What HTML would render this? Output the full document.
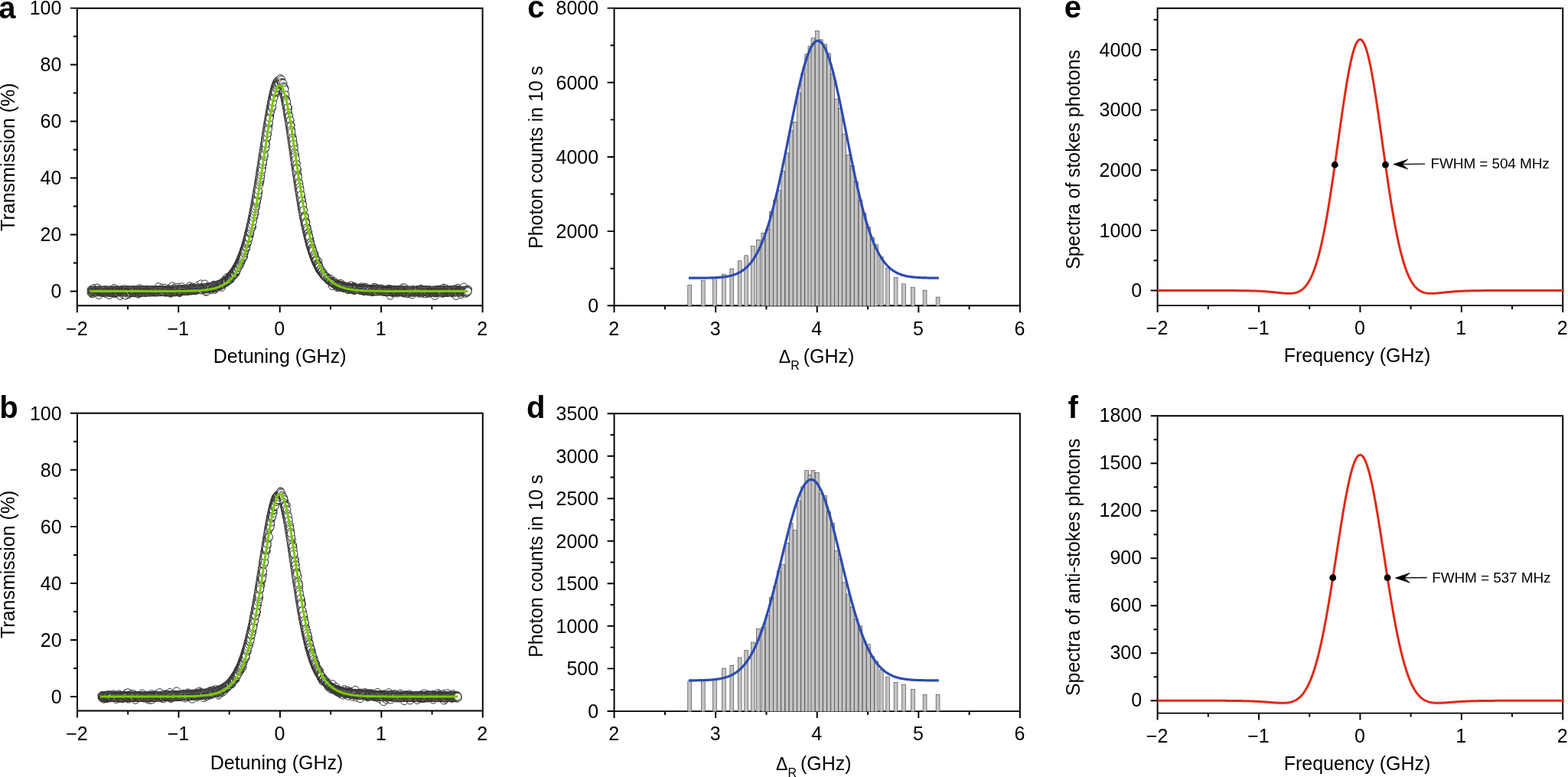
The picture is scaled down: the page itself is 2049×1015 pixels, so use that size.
<!DOCTYPE html>
<html lang="en"><head><meta charset="utf-8"><title>Figure</title>
<style>
html,body{margin:0;padding:0;background:#fff;overflow:hidden}
svg{display:block;font-family:"Liberation Sans",Arial,Helvetica,sans-serif}
.ax{fill:none;stroke:#000;stroke-width:1.95}
.tk{fill:none;stroke:#000;stroke-width:1.95}
.t{font-size:25px;fill:#000}
.s{font-size:19px;fill:#000}
.L{font-size:40px;font-weight:bold;fill:#000}
.c{fill:none;stroke:none;marker-start:url(#mk);marker-mid:url(#mk);marker-end:url(#mk)}
.g{fill:none;stroke:#7ac900;stroke-width:3;stroke-linejoin:miter;stroke-linecap:butt}
.b rect{fill:#c3c3c3;stroke:#1c1c1c;stroke-width:.5}
.bl{fill:none;stroke:#2b4bb0;stroke-width:3.2;stroke-linejoin:round}
.r{fill:none;stroke:#df2a17;stroke-width:3;stroke-linejoin:round}
.d{fill:#000}
.ar{fill:none;stroke:#000;stroke-width:1.3}
.ah{fill:#000;stroke:#000;stroke-width:.7;stroke-linejoin:miter}
</style></head><body>
<svg width="2049" height="1015" viewBox="0 0 2049 1015">
<defs><marker id="mk" markerUnits="userSpaceOnUse" markerWidth="12" markerHeight="12" refX="6" refY="6" viewBox="0 0 12 12" overflow="visible"><circle cx="6" cy="6" r="4.8" fill="#fff" stroke="#2c2c2c" stroke-width="1"/></marker></defs>
<rect width="2049" height="1015" fill="#fff"/>
<path class="c" d="M119.0 378.3 120.1 383.7 121.4 383.7 122.7 379.5 123.0 376.2 124.4 379.7 125.8 378.0 126.8 380.5 127.3 375.9 128.1 382.2 129.1 385.7 130.5 381.9 131.4 381.0 132.4 380.2 133.7 382.2 134.5 380.5 135.5 382.3 136.3 380.0 138.2 383.6 138.5 381.6 140.4 379.8 140.7 381.4 142.2 381.8 142.9 385.7 144.3 381.4 145.1 382.2 146.5 379.0 147.2 382.7 147.6 380.3 149.0 376.4 149.8 383.9 151.4 381.6 152.1 383.0 153.5 379.5 154.3 382.6 154.8 378.8 155.8 382.4 157.4 386.8 158.3 379.2 159.9 378.1 160.7 384.9 161.2 381.6 162.5 377.6 163.5 381.4 164.3 386.0 165.0 382.2 166.9 378.4 167.9 384.8 169.0 383.4 169.6 380.8 170.2 378.5 171.4 382.7 172.8 382.6 173.6 380.3 174.9 382.7 175.8 382.7 176.4 380.3 178.0 379.1 179.3 379.2 180.3 384.4 180.7 378.6 181.6 383.3 182.5 376.6 183.8 380.1 184.7 382.0 185.7 381.9 186.8 381.8 187.9 380.7 189.4 382.4 190.2 379.9 190.7 382.2 191.9 378.9 192.9 378.2 194.0 382.0 195.5 380.2 195.9 380.8 197.0 380.6 198.7 381.7 199.7 381.9 201.0 380.8 201.8 381.9 202.7 380.5 203.5 382.1 204.7 381.2 205.2 382.1 207.1 374.5 207.5 379.0 209.2 381.7 210.0 381.7 210.2 379.3 212.2 376.0 213.3 379.1 213.9 377.9 215.4 376.0 216.1 382.3 216.8 380.1 217.6 381.1 218.7 382.1 219.6 380.9 221.0 381.5 221.9 376.4 222.6 383.4 223.8 382.9 225.4 373.7 226.0 378.9 227.6 376.2 228.7 382.2 229.5 375.6 230.3 377.8 231.6 379.6 231.9 376.9 233.1 374.9 234.7 382.8 235.3 381.8 236.3 380.3 237.6 374.6 239.0 378.1 239.6 379.8 240.1 378.1 242.0 378.6 242.9 377.8 243.8 380.6 245.0 380.8 245.4 376.5 246.3 379.0 247.8 373.6 249.2 380.1 250.1 377.8 251.2 374.8 251.4 377.9 252.5 377.6 253.6 378.5 255.5 378.9 255.6 377.3 256.7 377.8 258.5 378.7 258.9 372.7 259.9 378.5 260.8 378.5 262.3 377.2 262.7 370.7 264.0 376.7 265.3 378.9 265.8 376.3 267.7 370.8 267.9 377.9 269.0 381.4 270.4 380.8 271.6 377.2 272.4 377.6 273.2 376.0 274.2 374.9 276.0 378.7 276.7 374.3 278.0 376.6 278.4 373.8 279.4 372.0 280.4 378.6 281.5 377.2 282.8 374.7 283.4 372.0 284.3 373.2 285.8 372.1 286.9 372.1 287.6 371.5 289.2 374.1 289.5 375.5 290.4 370.9 292.4 368.0 293.5 365.6 294.3 369.2 295.0 367.2 296.5 368.5 296.7 362.3 298.5 363.5 299.5 364.3 300.5 360.0 301.4 365.3 302.4 360.7 302.9 359.0 304.5 360.3 304.8 360.5 306.8 355.2 307.4 358.3 308.7 355.7 309.2 351.9 310.2 347.6 311.4 348.3 312.5 344.4 313.1 344.5 314.1 343.5 315.4 335.7 316.5 339.1 317.1 337.4 318.7 335.6 319.6 329.4 320.9 325.7 321.7 324.7 322.7 319.1 323.8 313.0 325.2 308.7 326.0 308.6 326.4 303.2 328.3 296.7 328.5 296.3 329.7 297.0 331.2 283.2 332.2 281.7 333.3 278.6 334.5 270.8 335.6 263.2 335.8 260.9 336.8 258.7 337.7 251.4 339.4 239.7 340.2 236.5 340.9 229.8 342.8 218.4 343.6 213.7 344.7 206.3 345.8 194.2 346.7 187.6 347.6 187.2 348.9 180.9 349.9 175.0 350.4 164.2 351.1 164.1 353.0 151.1 354.0 143.2 354.5 141.0 355.2 140.8 356.9 129.0 357.1 129.0 358.2 122.1 359.9 123.3 360.4 120.0 361.5 114.9 362.9 109.3 363.6 109.7 365.2 110.9 366.4 109.3 367.3 107.5 368.2 111.0 368.7 110.6 369.6 110.9 371.3 119.0 372.1 115.3 373.6 128.8 373.7 132.5 374.9 134.4 376.2 143.5 376.7 140.7 378.1 155.2 379.1 157.8 380.6 169.4 381.4 177.1 382.2 178.7 383.1 184.9 384.5 190.4 385.4 205.0 386.9 217.4 387.4 213.4 388.7 221.9 389.2 227.4 390.7 240.0 391.0 240.3 392.5 251.7 394.0 257.4 394.7 263.7 395.9 275.9 396.7 274.5 397.9 284.8 398.9 289.3 399.9 289.3 401.3 296.8 402.1 306.6 403.2 308.3 403.6 309.7 405.1 312.0 405.6 318.2 407.3 325.1 407.5 322.6 409.0 328.0 409.9 333.2 411.2 331.5 412.6 337.6 413.3 343.0 414.3 340.0 414.9 342.2 416.0 341.0 416.8 346.2 418.1 352.8 419.3 352.4 420.5 355.7 421.6 355.2 422.5 359.0 423.1 359.5 424.7 360.8 425.9 362.3 427.0 361.3 427.7 363.2 429.0 365.2 429.7 366.4 430.9 364.1 431.9 366.0 432.3 364.4 434.2 373.6 434.9 367.5 435.8 370.0 436.4 367.3 437.4 371.1 439.1 373.6 439.6 372.4 440.7 375.8 441.5 374.7 442.5 371.3 443.6 370.3 445.4 372.8 445.7 370.4 447.4 373.6 448.6 376.3 449.4 376.3 449.7 375.3 451.0 376.2 452.2 376.5 452.9 374.7 454.6 378.9 454.9 375.3 456.5 377.7 457.7 373.7 458.9 372.6 459.7 375.5 460.2 379.0 461.9 374.9 462.3 374.1 463.1 379.7 464.9 375.9 465.7 377.2 466.1 378.2 467.5 376.6 469.0 377.1 469.2 377.9 471.0 376.0 471.3 377.3 472.3 374.6 474.0 377.4 475.0 376.1 475.7 380.9 477.0 375.0 477.6 378.9 478.4 375.5 479.7 379.6 481.0 381.1 481.5 379.5 482.8 379.9 484.4 377.9 485.0 380.6 486.3 381.9 487.3 378.9 488.6 380.7 488.8 375.0 490.6 381.3 490.7 375.5 492.2 376.9 493.1 378.6 494.3 379.3 495.3 377.7 496.6 377.7 497.8 376.7 498.0 379.0 499.7 379.0 500.3 379.3 501.7 380.1 502.8 378.6 503.9 378.5 504.5 381.3 505.3 381.7 506.4 380.6 507.9 377.0 508.3 380.7 509.9 386.4 511.0 377.8 512.1 380.9 513.2 382.8 514.2 380.4 514.7 378.8 515.9 378.4 517.0 378.9 517.4 378.8 518.7 383.2 519.8 381.4 521.3 378.6 522.0 381.5 523.5 380.5 523.9 380.7 525.6 379.5 526.1 375.8 527.7 383.1 528.5 375.7 529.5 382.7 529.9 383.3 531.8 380.8 532.6 381.5 533.2 384.0 534.8 381.9 535.3 382.2 536.9 381.8 537.1 380.7 538.7 385.1 539.2 382.4 540.4 380.5 541.1 381.2 542.6 380.6 543.3 379.4 544.8 381.4 545.2 380.6 547.0 381.4 548.1 381.6 548.2 383.5 550.0 377.2 550.6 378.1 552.2 382.4 553.3 383.6 553.9 378.9 555.4 379.4 556.3 384.0 557.5 380.6 558.2 379.0 559.3 383.1 559.9 380.7 561.5 379.6 561.6 383.4 563.5 381.9 563.9 380.1 565.4 379.3 566.0 380.5 567.6 380.6 568.3 386.6 569.4 383.2 570.3 381.4 571.7 378.2 572.5 381.2 573.2 381.4 574.5 377.9 575.5 379.1 576.6 380.7 578.0 380.8 578.4 383.5 579.4 376.0 580.8 382.4 582.0 376.5 582.5 382.5 583.6 379.9 585.0 382.6 585.7 381.8 586.3 378.3 587.6 380.9 588.4 380.3 589.6 378.6 590.6 382.9 592.4 380.6 593.2 377.7 594.1 384.1 594.9 378.9 596.2 386.6 597.2 380.2 597.6 376.4 598.8 376.2 599.6 380.6 601.6 377.9 602.0 381.2 602.7 384.8 604.3 377.6 605.3 380.6 606.1 374.8 606.9 382.5 608.4 383.5 608.9 378.8 610.1 381.0 611.7 377.9"/>
<path class="c" d="M119.3 379.0 119.7 379.7 120.0 379.3 120.3 379.4 120.7 379.6 121.0 379.0 121.3 379.4 121.6 378.9 122.0 379.2 122.3 379.4 122.6 379.2 123.0 379.4 123.3 379.8 123.6 378.9 123.9 379.2 124.3 378.9 124.6 379.8 124.9 379.0 125.3 379.0 125.6 379.3 125.9 379.9 126.2 379.2 126.6 379.5 126.9 379.3 127.2 379.3 127.5 379.5 127.9 379.3 128.2 379.3 128.5 378.8 128.9 379.3 129.2 378.6 129.5 379.6 129.8 379.3 130.2 378.9 130.5 379.7 130.8 379.1 131.2 379.2 131.5 379.5 131.8 379.4 132.1 378.8 132.5 379.4 132.8 379.2 133.1 379.2 133.5 378.9 133.8 379.9 134.1 379.7 134.4 379.7 134.8 379.4 135.1 379.1 135.4 379.0 135.8 379.4 136.1 378.8 136.4 379.3 136.7 379.1 137.1 379.5 137.4 379.0 137.7 379.5 138.1 378.9 138.4 379.0 138.7 378.7 139.0 379.4 139.4 379.6 139.7 379.0 140.0 379.2 140.4 379.4 140.7 379.7 141.0 379.0 141.3 379.9 141.7 379.4 142.0 379.0 142.3 379.4 142.6 379.1 143.0 379.1 143.3 379.1 143.6 379.0 144.0 379.1 144.3 379.4 144.6 379.6 144.9 379.4 145.3 379.5 145.6 379.2 145.9 378.9 146.3 379.0 146.6 379.5 146.9 379.2 147.2 379.3 147.6 379.4 147.9 378.9 148.2 379.1 148.6 379.2 148.9 379.6 149.2 380.1 149.5 379.5 149.9 378.9 150.2 379.3 150.5 379.3 150.9 379.4 151.2 379.1 151.5 379.3 151.8 378.8 152.2 379.3 152.5 379.4 152.8 378.9 153.2 379.1 153.5 379.1 153.8 379.1 154.1 379.3 154.5 379.2 154.8 379.1 155.1 379.2 155.5 379.8 155.8 378.9 156.1 379.4 156.4 379.4 156.8 379.4 157.1 379.5 157.4 379.5 157.7 379.3 158.1 379.0 158.4 379.4 158.7 379.1 159.1 379.7 159.4 379.1 159.7 379.6 160.0 379.1 160.4 379.5 160.7 379.5 161.0 379.6 161.4 379.7 161.7 379.3 162.0 379.6 162.3 379.3 162.7 378.9 163.0 379.5 163.3 379.4 163.7 379.3 164.0 379.5 164.3 379.3 164.6 379.2 165.0 379.0 165.3 379.5 165.6 379.3 166.0 379.3 166.3 378.9 166.6 379.6 166.9 379.2 167.3 379.0 167.6 379.1 167.9 379.5 168.3 379.6 168.6 379.8 168.9 379.4 169.2 379.3 169.6 379.7 169.9 379.0 170.2 379.2 170.5 379.3 170.9 379.4 171.2 379.1 171.5 379.4 171.9 379.1 172.2 379.4 172.5 379.0 172.8 379.7 173.2 379.6 173.5 378.7 173.8 379.0 174.2 378.8 174.5 379.5 174.8 379.0 175.1 379.0 175.5 379.0 175.8 379.3 176.1 378.8 176.5 379.1 176.8 379.6 177.1 378.5 177.4 379.2 177.8 378.9 178.1 379.5 178.4 379.5 178.8 379.0 179.1 379.0 179.4 379.5 179.7 379.2 180.1 379.6 180.4 379.9 180.7 378.9 181.1 379.6 181.4 379.0 181.7 378.9 182.0 379.1 182.4 378.8 182.7 379.1 183.0 379.2 183.3 379.2 183.7 379.1 184.0 379.1 184.3 379.5 184.7 379.3 185.0 379.4 185.3 378.4 185.6 378.9 186.0 379.5 186.3 379.1 186.6 379.8 187.0 379.2 187.3 378.7 187.6 379.2 187.9 378.8 188.3 379.3 188.6 379.1 188.9 379.1 189.3 379.9 189.6 379.5 189.9 378.7 190.2 379.5 190.6 378.9 190.9 378.7 191.2 379.2 191.6 378.9 191.9 379.1 192.2 379.4 192.5 379.0 192.9 379.1 193.2 379.5 193.5 379.3 193.8 379.6 194.2 379.3 194.5 379.2 194.8 379.5 195.2 379.7 195.5 379.0 195.8 378.8 196.1 379.4 196.5 379.1 196.8 379.4 197.1 379.9 197.5 378.5 197.8 379.1 198.1 379.6 198.4 378.8 198.8 378.9 199.1 378.7 199.4 378.9 199.8 379.0 200.1 378.7 200.4 379.2 200.7 379.1 201.1 379.4 201.4 379.5 201.7 379.0 202.0 379.0 202.4 379.6 202.7 379.0 203.0 378.8 203.4 379.5 203.7 379.2 204.0 378.6 204.3 379.3 204.7 378.9 205.0 378.8 205.3 379.0 205.7 379.0 206.0 378.9 206.3 379.0 206.6 379.0 207.0 379.5 207.3 379.0 207.6 379.3 207.9 378.6 208.3 378.4 208.6 378.7 208.9 379.6 209.3 378.7 209.6 378.9 209.9 379.3 210.2 379.3 210.6 378.6 210.9 379.1 211.2 379.0 211.6 378.9 211.9 378.7 212.2 379.7 212.5 378.6 212.9 379.1 213.2 379.0 213.5 378.7 213.8 378.8 214.2 379.6 214.5 378.7 214.8 378.9 215.2 379.2 215.5 379.0 215.8 379.3 216.1 378.6 216.5 378.4 216.8 379.0 217.1 378.9 217.4 379.2 217.8 379.0 218.1 379.1 218.4 378.7 218.8 378.2 219.1 378.4 219.4 378.4 219.7 379.0 220.1 378.4 220.4 378.9 220.7 378.9 221.0 378.4 221.4 378.7 221.7 377.9 222.0 378.6 222.4 378.7 222.7 378.4 223.0 378.9 223.3 378.4 223.7 378.1 224.0 378.6 224.3 378.7 224.6 378.2 225.0 378.8 225.3 378.4 225.6 378.6 226.0 378.4 226.3 378.7 226.6 378.3 226.9 378.3 227.3 377.9 227.6 378.5 227.9 378.3 228.2 378.9 228.6 378.6 228.9 378.3 229.2 378.7 229.6 378.3 229.9 378.6 230.2 378.1 230.5 378.1 230.9 378.4 231.2 378.0 231.5 378.4 231.8 378.2 232.2 378.0 232.5 378.0 232.8 378.0 233.1 377.6 233.5 378.3 233.8 378.2 234.1 378.6 234.5 377.8 234.8 378.4 235.1 378.2 235.4 378.2 235.8 377.9 236.1 378.1 236.4 378.1 236.7 377.9 237.1 378.0 237.4 377.9 237.7 378.2 238.0 378.0 238.4 378.2 238.7 377.6 239.0 377.6 239.4 377.6 239.7 377.7 240.0 377.9 240.3 377.6 240.7 378.2 241.0 378.5 241.3 378.0 241.6 377.2 242.0 377.6 242.3 377.2 242.6 377.8 242.9 377.3 243.3 377.1 243.6 377.3 243.9 377.5 244.3 377.2 244.6 377.6 244.9 377.0 245.2 377.8 245.6 377.7 245.9 377.4 246.2 377.6 246.5 376.9 246.9 377.2 247.2 377.5 247.5 376.8 247.8 376.9 248.2 377.4 248.5 376.8 248.8 376.9 249.2 377.4 249.5 377.3 249.8 377.1 250.1 376.8 250.5 376.6 250.8 376.6 251.1 377.2 251.4 377.6 251.8 377.5 252.1 376.6 252.4 376.7 252.7 376.6 253.1 376.9 253.4 376.9 253.7 376.7 254.0 376.7 254.4 376.8 254.7 377.1 255.0 377.2 255.3 376.7 255.7 376.8 256.0 376.3 256.3 377.0 256.7 377.3 257.0 377.2 257.3 376.6 257.6 376.1 258.0 376.7 258.3 376.7 258.6 376.4 258.9 376.0 259.3 376.1 259.6 376.2 259.9 376.1 260.2 376.5 260.6 376.3 260.9 376.2 261.2 375.8 261.5 376.9 261.9 376.4 262.2 376.1 262.5 376.2 262.8 376.2 263.2 376.2 263.5 376.4 263.8 375.9 264.1 375.6 264.5 376.1 264.8 375.8 265.1 375.6 265.4 376.1 265.8 375.9 266.1 376.2 266.4 375.3 266.7 375.2 267.1 375.8 267.4 375.1 267.7 375.4 268.0 376.1 268.4 375.4 268.7 375.4 269.0 375.3 269.3 375.2 269.7 375.5 270.0 375.0 270.3 375.2 270.6 374.7 271.0 375.3 271.3 375.9 271.6 374.6 271.9 374.9 272.3 375.6 272.6 375.2 272.9 375.2 273.2 374.6 273.6 375.0 273.9 374.4 274.2 374.9 274.5 374.4 274.9 374.8 275.2 374.9 275.5 374.3 275.8 374.5 276.1 374.2 276.5 374.8 276.8 374.5 277.1 374.3 277.4 373.5 277.8 373.9 278.1 374.5 278.4 374.8 278.7 373.3 279.1 373.7 279.4 374.0 279.7 373.3 280.0 373.3 280.3 372.8 280.7 373.3 281.0 373.4 281.3 372.9 281.6 373.5 281.9 373.1 282.3 373.2 282.6 373.0 282.9 373.1 283.2 373.0 283.5 372.8 283.9 372.3 284.2 372.3 284.5 372.2 284.8 371.9 285.1 371.7 285.5 371.7 285.8 371.1 286.1 371.5 286.4 371.4 286.7 371.5 287.0 370.9 287.4 370.7 287.7 371.8 288.0 370.6 288.3 371.0 288.6 370.4 288.9 370.3 289.2 370.6 289.6 370.5 289.9 370.0 290.2 369.0 290.5 369.9 290.8 369.5 291.1 369.3 291.4 369.1 291.8 368.5 292.1 368.1 292.4 368.5 292.7 368.2 293.0 368.2 293.3 367.4 293.6 367.7 293.9 367.3 294.2 367.3 294.6 366.7 294.9 366.8 295.2 366.8 295.5 365.8 295.8 366.7 296.1 365.8 296.4 365.7 296.7 365.6 297.0 364.4 297.3 364.7 297.6 364.6 297.9 364.5 298.2 363.8 298.5 363.6 298.8 363.4 299.1 363.2 299.4 362.3 299.7 362.3 300.0 362.1 300.3 362.1 300.6 361.6 300.9 360.8 301.2 360.9 301.5 360.1 301.8 360.0 302.1 359.5 302.4 359.1 302.7 358.9 303.0 358.5 303.3 358.0 303.6 357.4 303.9 356.4 304.3 356.4 304.6 356.6 304.9 355.1 305.2 355.4 305.6 355.1 305.9 354.3 306.2 353.9 306.6 353.3 306.9 352.9 307.2 352.3 307.5 351.4 307.9 350.8 308.2 350.7 308.5 349.7 308.9 349.3 309.2 348.6 309.5 348.3 309.8 347.7 310.2 346.9 310.5 346.8 310.8 345.8 311.2 345.5 311.5 344.3 311.8 343.8 312.1 343.0 312.5 342.5 312.8 342.0 313.1 340.7 313.5 340.4 313.8 339.5 314.1 338.7 314.4 337.8 314.8 337.1 315.1 336.6 315.4 335.8 315.8 334.3 316.1 333.8 316.4 332.9 316.7 332.2 317.1 330.8 317.4 330.0 317.7 329.4 318.1 328.8 318.4 326.7 318.7 326.4 319.0 325.6 319.4 324.4 319.7 323.5 320.0 322.2 320.3 321.2 320.7 320.3 321.0 318.7 321.3 318.0 321.7 317.2 322.0 315.3 322.3 314.4 322.6 313.4 323.0 312.3 323.3 310.8 323.6 309.5 324.0 308.2 324.3 306.9 324.6 305.1 324.9 303.8 325.3 302.7 325.6 301.3 325.9 300.2 326.3 299.1 326.6 297.1 326.9 295.4 327.2 294.5 327.6 293.0 327.9 291.5 328.2 290.2 328.6 288.1 328.9 287.0 329.2 284.7 329.5 283.0 329.9 281.9 330.2 280.3 330.5 278.9 330.9 276.7 331.2 275.2 331.5 274.0 331.8 272.1 332.2 269.9 332.5 268.4 332.8 266.4 333.2 264.6 333.5 262.5 333.8 261.1 334.1 258.9 334.5 257.0 334.8 255.0 335.1 253.6 335.4 251.5 335.8 248.9 336.1 247.7 336.4 245.9 336.8 243.7 337.1 242.1 337.4 240.0 337.7 237.8 338.1 235.7 338.4 233.3 338.7 231.9 339.1 229.5 339.4 227.3 339.7 225.4 340.0 223.0 340.4 220.4 340.7 219.3 341.0 217.1 341.4 214.8 341.7 212.7 342.0 210.6 342.3 208.1 342.7 205.6 343.0 203.2 343.3 201.8 343.7 200.2 344.0 197.0 344.3 195.3 344.6 193.3 345.0 190.7 345.3 188.9 345.6 186.8 346.0 184.8 346.3 182.2 346.6 180.1 346.9 178.4 347.3 176.3 347.6 173.6 347.9 172.1 348.3 170.0 348.6 168.0 348.9 165.8 349.2 163.5 349.6 161.7 349.9 159.4 350.2 157.6 350.5 156.4 350.9 153.9 351.2 152.0 351.5 150.6 351.9 148.0 352.2 146.4 352.5 144.7 352.8 142.6 353.2 140.7 353.5 139.1 353.8 137.7 354.2 135.9 354.5 133.5 354.8 132.9 355.1 130.9 355.5 129.4 355.8 127.4 356.1 126.1 356.5 124.7 356.8 123.4 357.1 121.6 357.4 120.5 357.8 119.2 358.1 117.9 358.4 116.4 358.8 115.4 359.1 114.2 359.4 112.9 359.7 112.3 360.1 111.2 360.4 110.2 360.7 109.1 361.1 108.4 361.4 108.0 361.7 107.5 362.0 106.8 362.4 106.4 362.7 105.6 363.0 105.4 363.4 105.4 363.7 105.6 364.0 105.7 364.3 105.4 364.7 105.4 365.0 105.7 365.3 106.3 365.6 106.5 366.0 107.8 366.3 107.5 366.6 108.1 367.0 109.3 367.3 110.2 367.6 111.2 367.9 111.9 368.3 113.5 368.6 114.5 368.9 115.4 369.3 117.2 369.6 117.9 369.9 119.3 370.2 120.8 370.6 122.4 370.9 123.2 371.2 125.4 371.6 126.7 371.9 128.1 372.2 130.0 372.5 131.3 372.9 133.3 373.2 134.9 373.5 136.7 373.9 138.3 374.2 140.5 374.5 141.9 374.8 143.7 375.2 146.2 375.5 148.3 375.8 150.2 376.2 152.0 376.5 153.5 376.8 155.7 377.1 157.3 377.5 159.4 377.8 162.4 378.1 164.2 378.5 166.3 378.8 167.9 379.1 170.3 379.4 172.5 379.8 175.2 380.1 176.6 380.4 179.7 380.7 181.6 381.1 184.2 381.4 186.4 381.7 188.4 382.1 191.0 382.4 192.8 382.7 195.1 383.0 197.6 383.4 199.7 383.7 201.9 384.0 204.2 384.4 207.1 384.7 208.9 385.0 211.1 385.3 213.8 385.7 216.1 386.0 217.9 386.3 220.3 386.7 222.7 387.0 224.6 387.3 227.0 387.6 229.0 388.0 231.8 388.3 233.6 388.6 236.7 389.0 238.5 389.3 239.9 389.6 242.9 389.9 244.8 390.3 246.9 390.6 248.8 390.9 250.7 391.3 252.6 391.6 255.2 391.9 257.1 392.2 258.9 392.6 260.8 392.9 263.2 393.2 264.7 393.5 267.4 393.9 268.8 394.2 271.2 394.5 272.8 394.9 274.7 395.2 275.8 395.5 277.6 395.8 279.7 396.2 281.6 396.5 284.0 396.8 285.6 397.2 286.7 397.5 288.2 397.8 289.9 398.1 291.9 398.5 293.5 398.8 294.7 399.1 295.8 399.5 297.7 399.8 299.5 400.1 301.0 400.4 302.3 400.8 303.7 401.1 305.7 401.4 306.2 401.8 307.9 402.1 309.2 402.4 310.8 402.7 311.7 403.1 313.0 403.4 314.8 403.7 315.5 404.1 317.2 404.4 318.8 404.7 319.2 405.0 320.9 405.4 321.9 405.7 323.1 406.0 324.0 406.4 325.1 406.7 326.0 407.0 327.0 407.3 327.7 407.7 329.0 408.0 330.0 408.3 331.0 408.6 331.8 409.0 332.8 409.3 333.9 409.6 335.2 410.0 336.0 410.3 336.5 410.6 337.5 410.9 338.4 411.3 339.2 411.6 340.1 411.9 340.4 412.3 341.2 412.6 342.6 412.9 342.9 413.2 343.7 413.6 344.5 413.9 344.8 414.2 345.7 414.6 346.4 414.9 347.4 415.2 347.5 415.5 348.3 415.9 348.9 416.2 349.8 416.5 349.8 416.9 351.7 417.2 351.8 417.5 352.4 417.8 352.9 418.2 353.3 418.5 353.7 418.8 354.2 419.2 354.5 419.5 354.7 419.8 355.4 420.1 356.0 420.5 356.5 420.8 356.8 421.1 357.1 421.5 358.0 421.8 357.7 422.2 358.7 422.5 358.8 422.9 360.2 423.3 359.8 423.6 360.3 424.0 360.2 424.4 360.7 424.7 361.2 425.1 361.5 425.4 362.1 425.8 362.6 426.1 362.3 426.5 363.4 426.9 363.5 427.2 364.0 427.6 364.2 427.9 364.3 428.3 364.3 428.6 365.1 429.0 364.8 429.3 365.9 429.7 365.8 430.0 366.1 430.4 365.9 430.7 366.0 431.1 367.3 431.4 366.8 431.8 366.6 432.1 367.3 432.5 367.0 432.8 367.4 433.2 367.8 433.5 368.5 433.8 368.5 434.2 368.1 434.5 369.0 434.9 369.2 435.2 369.2 435.6 368.9 435.9 369.4 436.3 370.1 436.6 370.0 436.9 369.8 437.3 369.8 437.6 369.8 438.0 370.3 438.3 370.4 438.6 371.0 439.0 371.0 439.3 371.4 439.7 371.2 440.0 371.2 440.3 371.4 440.7 371.8 441.0 371.5 441.4 371.5 441.7 371.5 442.0 372.7 442.4 372.8 442.7 372.6 443.1 372.2 443.4 372.1 443.7 372.3 444.1 372.6 444.4 372.7 444.7 372.9 445.1 373.2 445.4 373.3 445.8 372.2 446.1 373.3 446.4 373.1 446.8 373.2 447.1 373.2 447.4 373.6 447.8 373.4 448.1 373.1 448.4 374.0 448.8 374.0 449.1 374.2 449.4 374.1 449.8 374.4 450.1 374.0 450.4 374.0 450.8 373.9 451.1 374.0 451.4 374.5 451.8 374.4 452.1 374.8 452.4 374.6 452.8 374.6 453.1 374.6 453.4 374.8 453.8 375.1 454.1 374.6 454.4 375.0 454.8 375.4 455.1 375.5 455.4 374.9 455.8 375.6 456.1 375.0 456.4 374.8 456.8 375.1 457.1 375.1 457.4 375.2 457.8 375.6 458.1 375.4 458.4 376.0 458.8 375.3 459.1 375.4 459.4 375.5 459.8 375.3 460.1 375.7 460.4 376.2 460.7 375.3 461.1 375.7 461.4 376.0 461.7 376.0 462.1 376.0 462.4 375.8 462.7 376.3 463.1 375.9 463.4 376.1 463.7 375.8 464.1 376.2 464.4 375.9 464.7 376.4 465.1 376.1 465.4 376.3 465.7 375.9 466.0 376.1 466.4 376.0 466.7 376.5 467.0 376.5 467.4 376.4 467.7 376.7 468.0 376.5 468.4 376.1 468.7 376.8 469.0 376.7 469.4 376.5 469.7 376.1 470.0 376.0 470.3 376.8 470.7 376.8 471.0 376.6 471.3 376.9 471.7 377.3 472.0 376.6 472.3 376.6 472.7 376.7 473.0 376.6 473.3 376.8 473.6 377.0 474.0 376.7 474.3 376.9 474.6 376.9 475.0 377.3 475.3 376.9 475.6 377.0 476.0 377.3 476.3 377.3 476.6 377.2 476.9 377.1 477.3 377.3 477.6 377.4 477.9 377.1 478.3 377.5 478.6 377.1 478.9 377.5 479.3 377.3 479.6 376.9 479.9 377.9 480.2 377.7 480.6 377.5 480.9 377.4 481.2 377.6 481.6 377.7 481.9 377.6 482.2 377.7 482.6 377.4 482.9 377.7 483.2 377.5 483.6 377.5 483.9 377.3 484.2 377.7 484.5 377.7 484.9 377.5 485.2 378.2 485.5 377.6 485.9 377.9 486.2 377.4 486.5 377.8 486.8 378.0 487.2 377.4 487.5 377.9 487.8 378.0 488.2 377.6 488.5 378.4 488.8 377.9 489.2 377.6 489.5 378.2 489.8 377.6 490.1 378.0 490.5 378.1 490.8 378.4 491.1 377.5 491.5 377.6 491.8 378.1 492.1 377.9 492.5 378.6 492.8 378.0 493.1 377.9 493.4 378.3 493.8 378.3 494.1 378.2 494.4 378.4 494.8 378.6 495.1 377.9 495.4 377.9 495.8 378.0 496.1 378.0 496.4 377.9 496.7 378.3 497.1 379.1 497.4 378.3 497.7 378.4 498.1 378.6 498.4 378.2 498.7 378.6 499.1 378.7 499.4 377.7 499.7 378.5 500.0 378.3 500.4 378.2 500.7 378.2 501.0 378.5 501.4 378.3 501.7 378.5 502.0 378.6 502.3 378.6 502.7 378.3 503.0 378.3 503.3 378.4 503.7 379.0 504.0 378.6 504.3 378.4 504.7 378.7 505.0 378.4 505.3 378.6 505.6 378.3 506.0 379.3 506.3 378.6 506.6 378.3 507.0 378.5 507.3 378.8 507.6 378.7 507.9 378.8 508.3 378.6 508.6 378.5 508.9 378.9 509.3 378.4 509.6 378.6 509.9 379.4 510.2 378.9 510.6 378.8 510.9 379.0 511.2 378.8 511.6 378.8 511.9 378.8 512.2 378.9 512.6 378.8 512.9 379.0 513.2 378.7 513.5 379.4 513.9 378.9 514.2 379.0 514.5 379.0 514.9 378.8 515.2 379.1 515.5 379.8 515.8 379.3 516.2 379.0 516.5 379.0 516.8 379.1 517.2 379.1 517.5 378.8 517.8 379.0 518.1 379.3 518.5 379.2 518.8 378.7 519.1 379.0 519.5 378.9 519.8 379.0 520.1 379.0 520.4 379.2 520.8 379.3 521.1 379.3 521.4 379.3 521.8 378.5 522.1 378.9 522.4 379.0 522.7 379.1 523.1 379.5 523.4 378.8 523.7 379.6 524.1 378.8 524.4 379.2 524.7 379.5 525.0 378.7 525.4 379.4 525.7 379.2 526.0 379.2 526.4 379.5 526.7 379.0 527.0 379.5 527.3 379.2 527.7 379.5 528.0 378.7 528.3 379.1 528.7 378.7 529.0 379.3 529.3 379.1 529.6 379.0 530.0 379.1 530.3 379.2 530.6 378.8 531.0 379.1 531.3 379.1 531.6 378.9 531.9 380.0 532.3 379.5 532.6 379.0 532.9 379.3 533.3 379.3 533.6 379.6 533.9 379.3 534.2 378.8 534.6 379.3 534.9 379.5 535.2 379.3 535.6 378.9 535.9 379.4 536.2 379.7 536.5 379.1 536.9 379.3 537.2 379.2 537.5 379.7 537.9 379.5 538.2 379.3 538.5 379.1 538.8 378.7 539.2 378.8 539.5 378.9 539.8 378.9 540.2 378.9 540.5 379.0 540.8 379.0 541.1 379.3 541.5 379.4 541.8 378.9 542.1 379.6 542.5 379.4 542.8 379.3 543.1 379.2 543.4 379.4 543.8 379.4 544.1 379.5 544.4 379.5 544.8 379.4 545.1 378.3 545.4 379.6 545.7 378.5 546.1 379.6 546.4 379.2 546.7 379.3 547.1 379.1 547.4 379.3 547.7 379.6 548.0 379.4 548.4 379.4 548.7 379.7 549.0 379.3 549.4 379.2 549.7 379.7 550.0 379.6 550.3 379.0 550.7 379.5 551.0 379.5 551.3 379.4 551.7 379.4 552.0 379.1 552.3 379.2 552.6 378.6 553.0 379.4 553.3 379.2 553.6 379.5 553.9 379.0 554.3 379.7 554.6 379.5 554.9 379.3 555.3 378.5 555.6 378.6 555.9 378.7 556.2 379.3 556.6 379.7 556.9 379.1 557.2 379.0 557.6 379.5 557.9 378.7 558.2 378.7 558.5 379.8 558.9 379.4 559.2 379.3 559.5 379.3 559.9 379.3 560.2 379.3 560.5 379.3 560.8 378.5 561.2 379.4 561.5 379.6 561.8 378.9 562.2 379.0 562.5 379.6 562.8 379.5 563.1 379.5 563.5 379.9 563.8 379.7 564.1 379.1 564.5 379.7 564.8 379.3 565.1 379.4 565.4 379.4 565.8 379.1 566.1 379.2 566.4 378.9 566.8 379.2 567.1 379.5 567.4 378.8 567.7 379.2 568.1 379.1 568.4 379.2 568.7 379.4 569.0 379.5 569.4 378.9 569.7 379.5 570.0 379.4 570.4 379.0 570.7 379.0 571.0 379.3 571.3 378.7 571.7 379.3 572.0 378.6 572.3 378.9 572.7 379.2 573.0 379.3 573.3 378.9 573.6 379.8 574.0 379.1 574.3 379.1 574.6 378.8 575.0 378.9 575.3 379.2 575.6 379.1 575.9 379.6 576.3 379.1 576.6 379.5 576.9 379.7 577.3 378.8 577.6 378.8 577.9 379.3 578.2 379.2 578.6 378.6 578.9 379.7 579.2 378.8 579.6 379.4 579.9 379.1 580.2 379.3 580.5 378.8 580.9 378.9 581.2 379.3 581.5 378.9 581.9 379.0 582.2 378.9 582.5 379.6 582.8 379.0 583.2 379.3 583.5 379.2 583.8 379.7 584.1 378.6 584.5 379.3 584.8 379.1 585.1 379.7 585.5 379.3 585.8 379.2 586.1 379.2 586.4 379.6 586.8 379.2 587.1 379.4 587.4 379.0 587.8 379.6 588.1 378.9 588.4 379.6 588.7 379.6 589.1 379.1 589.4 379.1 589.7 379.2 590.1 379.4 590.4 379.4 590.7 379.5 591.0 378.9 591.4 379.8 591.7 379.6 592.0 379.6 592.4 379.1 592.7 379.7 593.0 379.0 593.3 379.8 593.7 379.8 594.0 379.2 594.3 379.2 594.7 379.4 595.0 378.9 595.3 379.4 595.6 379.4 596.0 379.3 596.3 378.9 596.6 379.3 597.0 378.7 597.3 378.9 597.6 379.0 597.9 379.0 598.3 378.9 598.6 379.1 598.9 380.0 599.2 379.2 599.6 379.3 599.9 379.6 600.2 379.8 600.6 379.2 600.9 379.6 601.2 379.3 601.5 379.5 601.9 379.2 602.2 379.6 602.5 379.2 602.9 379.3 603.2 379.4 603.5 379.4 603.8 379.2 604.2 380.1 604.5 379.8 604.8 379.3 605.2 379.3 605.5 379.2 605.8 379.2 606.1 379.6 606.5 378.9 606.8 379.1 607.1 379.2 607.5 379.4 607.8 379.5 608.1 379.5 608.4 379.2 608.8 379.2 609.1 379.0 609.4 379.2 609.8 379.4 610.1 378.9 610.4 379.7 610.7 379.7 611.1 379.2 611.4 379.4"/>
<path class="c" d="M118.8 382.2 119.7 381.3 120.6 381.8 120.2 382.0 121.4 381.7 120.8 381.5 121.8 381.7 122.1 382.1 122.1 381.5 122.5 381.5 122.7 381.6 122.1 381.9 123.6 382.0 123.3 381.1 124.0 381.6 124.4 381.2 124.5 382.0 125.0 381.3 124.5 381.8 125.4 381.7 126.2 381.6 125.6 381.8 126.5 381.7 127.3 381.8 127.0 381.8 127.6 381.5 127.2 382.1 128.2 381.4 128.5 381.7 129.5 381.7 129.3 381.7 129.9 381.6 129.7 381.5 130.3 381.9 130.8 381.1 130.4 382.0 131.1 381.8 131.6 381.7 131.9 381.4 132.6 382.3 132.7 381.7 133.0 381.7 133.3 381.8 133.2 381.8 134.1 381.7 134.1 381.4 134.8 382.0 134.4 381.8 135.3 381.4 134.7 381.3 135.8 381.7 136.4 381.6 136.5 381.4 137.2 382.0 136.4 382.0 137.5 381.8 137.6 381.9 137.7 381.6 138.4 381.6 138.9 381.3 139.9 381.9 139.9 381.7 139.9 381.4 139.8 381.8 140.7 381.5 141.4 381.5 141.0 381.8 141.6 382.3 142.2 381.6 141.7 381.7 142.5 382.1 143.0 382.4 143.5 381.8 143.4 381.8 143.4 381.4 143.6 381.7 144.5 382.1 144.8 382.0 145.3 381.8 145.8 381.7 145.2 381.4 146.4 381.4 145.7 382.0 146.9 381.6 146.8 381.8 147.3 382.4 147.1 382.1 148.3 381.8 147.4 381.8 148.4 381.9 148.3 382.0 149.3 381.8 149.8 381.3 149.7 382.2 149.8 381.7 150.8 381.8 150.8 381.7 151.6 381.5 151.3 381.9 151.8 381.9 151.8 381.4 152.5 382.0 153.0 382.0 152.7 382.2 153.0 381.9 153.9 381.8 154.2 381.7 154.3 381.4 154.3 382.0 155.9 381.7 155.5 380.9 155.3 381.2 156.1 381.8 156.0 381.7 157.0 381.7 156.9 381.6 157.9 381.7 157.6 381.8 158.2 381.9 158.9 381.9 159.1 381.8 159.3 382.1 159.3 382.0 159.4 381.7 159.5 381.1 161.0 381.5 160.7 381.9 160.3 381.5 160.9 381.7 161.4 381.7 162.6 381.7 162.2 381.4 162.4 382.3 162.7 381.8 163.0 381.4 164.1 382.0 164.0 381.7 164.1 381.9 164.8 381.8 165.7 381.7 165.3 381.7 165.7 381.8 166.2 381.5 166.3 381.6 166.0 381.8 166.9 381.8 167.7 381.6 167.6 381.9 167.7 381.8 168.9 382.1 168.9 381.8 169.5 381.4 168.9 381.6 169.0 381.5 169.8 382.0 170.2 381.5 171.5 381.5 171.0 381.7 170.3 382.1 170.6 382.1 172.2 381.3 172.3 381.8 172.8 381.0 172.9 381.3 173.7 382.0 173.5 382.0 173.9 381.8 173.8 381.5 174.4 381.8 175.1 381.6 175.6 381.2 174.9 381.6 175.1 381.4 176.9 382.0 176.9 381.5 176.9 382.4 176.7 381.8 177.4 381.7 178.1 381.7 178.0 382.0 178.1 381.8 179.6 381.8 179.0 381.4 179.7 381.5 179.7 381.2 179.8 381.3 181.0 381.6 180.5 381.9 181.1 382.3 181.9 381.9 181.2 381.5 182.0 381.9 182.8 382.0 182.4 382.2 183.7 381.5 182.7 381.5 183.4 381.9 183.9 382.3 184.4 381.7 185.2 381.9 184.4 382.0 185.0 381.4 186.5 381.5 186.1 382.0 185.7 382.0 186.9 381.3 186.8 382.1 187.6 381.7 187.3 382.1 187.2 381.2 188.0 381.6 188.8 381.4 189.8 381.7 189.7 381.9 189.0 381.7 189.1 382.1 189.9 381.5 190.4 382.2 190.8 381.8 191.0 381.8 191.5 381.4 192.0 381.6 191.8 382.1 193.3 381.2 192.2 381.5 193.3 381.6 193.6 381.8 194.4 381.5 194.5 381.5 194.6 381.8 195.3 382.2 195.7 381.7 195.6 381.8 195.1 381.9 196.3 381.7 196.6 381.9 196.1 381.6 196.9 381.8 198.0 382.1 197.8 381.7 198.6 381.5 198.6 381.5 198.8 381.6 199.0 381.3 200.3 381.9 199.8 381.9 200.8 381.0 200.5 381.1 200.8 381.9 201.8 382.0 201.0 381.2 202.1 381.4 201.9 381.7 201.9 381.2 202.9 380.9 203.2 381.4 203.1 381.7 203.9 381.7 204.4 381.2 203.8 381.3 204.8 381.4 204.9 381.1 205.4 381.3 205.8 381.7 205.5 381.0 207.0 381.5 207.1 381.1 207.6 381.2 207.2 381.2 207.4 381.4 207.6 381.9 207.9 381.9 208.8 381.2 209.1 381.6 209.3 381.8 209.8 381.2 210.7 381.7 210.2 381.4 211.5 381.3 211.1 381.8 211.2 380.7 212.1 381.1 211.8 381.6 212.3 381.5 213.5 381.5 212.7 381.1 213.3 381.6 213.0 381.6 214.5 381.4 214.1 381.0 215.2 381.0 215.0 381.4 214.8 381.2 215.5 381.2 215.0 381.7 216.5 380.8 216.6 381.6 217.1 381.4 217.1 381.3 217.8 380.8 218.1 381.4 218.6 381.3 217.9 380.9 219.6 381.4 219.0 381.3 219.3 380.8 220.1 381.0 220.2 381.3 220.3 381.3 221.0 380.9 221.0 380.8 221.1 380.4 221.4 381.2 222.1 380.8 222.5 381.3 223.0 380.7 222.7 381.6 223.7 381.3 224.2 380.4 224.6 380.8 224.8 381.0 224.4 381.0 224.9 380.8 224.9 381.2 225.8 380.8 226.1 380.6 225.8 380.7 226.6 380.8 227.5 380.7 227.7 380.3 227.7 381.3 227.8 380.9 228.5 381.0 228.8 380.6 228.3 380.3 229.1 381.1 229.4 380.5 231.3 381.2 230.1 380.3 230.4 380.6 230.8 380.6 231.5 380.9 231.3 381.0 232.1 379.8 232.8 380.5 233.2 380.3 232.9 380.7 233.4 380.7 233.6 380.3 233.5 380.8 234.2 380.7 234.6 380.3 235.1 380.2 235.3 380.3 235.6 380.3 235.9 380.3 236.2 380.2 236.9 379.9 237.6 380.0 237.0 380.7 237.0 380.4 238.0 379.9 238.3 380.2 238.1 380.0 239.7 380.2 240.1 379.9 239.3 379.9 240.0 380.0 239.8 380.0 240.9 380.4 241.1 379.6 241.4 380.2 241.5 379.8 242.1 380.0 242.0 380.2 242.5 380.3 243.1 379.3 243.2 379.9 243.6 379.7 243.8 379.7 243.9 380.2 244.3 379.7 244.6 380.0 245.3 380.4 245.4 380.5 245.6 379.2 245.6 379.4 246.3 379.9 246.7 379.0 247.0 379.6 247.3 379.7 248.2 379.5 248.2 379.8 248.6 379.6 248.8 379.5 249.0 379.9 249.7 380.0 250.2 379.6 249.8 379.1 250.3 379.4 250.5 379.3 251.3 379.4 251.4 379.8 252.3 379.5 252.1 379.4 252.6 379.3 252.7 379.3 253.2 378.7 253.0 378.9 253.9 379.0 253.9 378.8 254.8 379.7 254.1 378.6 254.9 379.1 254.9 379.1 255.8 379.1 256.6 379.0 256.8 378.9 256.9 379.0 256.9 378.4 257.9 378.4 257.5 379.0 258.2 378.9 258.7 378.2 258.6 378.9 258.5 378.4 259.5 378.6 259.5 378.7 260.0 378.8 260.7 378.2 261.3 378.6 262.3 378.6 261.5 378.9 261.7 378.4 261.9 378.5 262.1 378.6 262.3 378.6 262.3 378.7 263.3 378.4 264.3 378.6 263.8 378.0 264.1 378.4 264.1 379.2 265.9 377.8 266.2 378.0 265.2 378.0 265.7 378.0 266.6 377.8 266.4 377.9 267.2 377.4 267.3 377.3 268.0 377.7 267.9 377.7 268.7 378.0 269.0 377.6 269.0 377.9 269.4 377.4 270.4 377.4 270.0 377.3 270.8 377.2 270.7 378.2 271.2 377.4 271.0 377.4 271.4 377.4 272.6 377.3 271.5 377.0 272.7 377.1 272.4 377.8 273.3 377.2 273.8 377.0 274.2 377.0 274.6 377.0 275.0 376.5 274.5 376.8 275.3 376.7 276.5 376.6 276.1 376.5 275.6 376.2 277.0 376.4 277.5 375.4 277.2 375.9 278.5 376.3 278.3 376.5 278.6 376.2 279.0 376.0 279.6 375.3 280.2 375.6 279.7 375.8 279.9 375.7 280.1 375.7 281.2 375.0 281.4 375.8 282.1 374.4 282.2 375.2 282.5 375.0 281.9 374.7 283.2 374.5 283.5 374.6 283.1 374.2 283.8 374.7 284.5 374.9 284.5 374.1 284.9 375.0 285.4 373.7 285.1 373.3 286.0 373.7 286.5 373.2 286.8 373.5 287.1 373.7 288.1 373.5 287.6 373.4 288.1 372.9 288.8 372.6 288.6 371.9 288.7 372.6 289.3 372.0 289.8 371.7 289.8 372.0 290.7 371.6 290.9 372.1 291.4 371.4 292.3 371.1 291.3 370.6 293.0 370.4 291.8 371.3 293.0 370.2 293.7 369.5 293.9 369.9 294.5 368.8 294.5 369.5 295.0 369.0 295.0 369.0 295.9 367.8 296.2 368.0 296.0 368.9 296.4 367.8 296.5 367.8 296.9 367.5 296.5 367.8 298.2 366.5 298.6 366.6 298.7 366.3 299.1 365.8 299.5 365.8 299.6 366.1 300.0 366.0 300.6 363.5 300.7 364.5 301.3 363.5 301.9 363.2 301.9 362.9 302.5 362.9 302.9 361.1 302.4 362.6 303.4 361.8 303.3 360.6 304.3 360.0 305.0 359.9 305.5 359.0 305.8 358.2 306.3 357.3 306.1 357.3 306.3 357.2 306.4 357.5 308.1 354.5 307.3 355.4 308.0 354.8 308.4 354.2 308.7 353.2 309.2 353.4 309.5 353.2 310.4 350.5 311.0 349.6 310.8 349.5 311.9 348.6 311.2 349.8 312.1 347.2 313.0 345.9 313.4 345.3 313.3 346.6 313.6 344.9 314.7 342.4 314.5 342.7 314.9 343.0 315.2 341.2 315.8 340.1 316.1 338.5 316.2 338.9 317.0 337.0 317.6 334.6 317.0 336.7 318.1 335.0 319.0 331.2 319.1 331.1 319.5 328.8 321.0 324.5 320.3 327.0 321.4 324.1 321.6 323.5 321.9 322.9 322.3 319.2 323.3 318.2 323.3 317.2 324.8 310.9 324.2 315.7 324.8 312.1 325.3 310.8 326.8 305.4 326.8 304.7 326.8 302.8 327.0 303.3 327.9 300.2 328.3 297.7 330.0 289.6 329.4 294.2 330.2 288.8 331.7 283.8 330.6 289.5 331.1 284.0 332.2 280.6 332.8 276.6 333.2 273.0 334.2 269.7 334.9 264.2 334.9 266.1 335.4 263.8 335.3 262.0 337.2 255.4 337.1 254.0 337.7 249.0 338.8 241.8 339.3 238.2 339.7 235.6 340.5 233.0 341.1 229.2 341.8 222.2 341.4 225.4 342.2 222.2 343.0 215.4 344.0 209.4 343.6 211.6 345.4 204.6 345.4 201.6 346.3 194.9 347.2 189.2 347.1 192.9 347.3 188.3 348.9 179.6 349.5 174.6 350.2 166.8 350.6 168.5 351.4 161.2 351.6 159.6 352.5 153.0 352.3 154.1 353.5 146.9 353.9 145.5 354.9 138.9 354.9 138.3 355.4 141.6 355.8 139.6 357.3 127.4 356.5 133.8 357.9 126.3 358.1 127.4 359.2 121.3 359.0 121.2 359.6 120.0 360.6 115.8 361.8 114.8 360.9 110.6 361.9 111.7 362.6 109.7 362.3 106.3 363.1 107.5 363.6 107.3 363.6 109.6 363.7 104.8 364.7 106.2 364.5 109.3 365.3 104.6 365.7 105.5 365.7 103.3 366.5 102.4 367.0 108.5 366.9 106.3 368.0 107.4 367.9 103.9 368.7 107.4 368.1 108.1 370.0 111.1 370.1 108.8 370.4 118.9 370.7 115.7 370.7 112.7 371.2 114.2 372.2 122.5 372.2 116.9 373.0 123.9 373.6 129.5 374.0 130.0 374.0 131.2 374.8 133.2 375.8 141.8 376.1 140.3 376.6 147.0 377.8 150.5 377.9 152.1 378.8 157.2 379.2 157.1 380.4 163.4 380.0 164.5 380.5 169.8 381.1 172.2 382.1 179.9 382.8 182.3 383.3 187.9 384.4 194.7 384.8 199.0 385.6 201.0 385.6 204.2 386.5 207.5 387.5 214.3 387.5 219.0 388.1 220.1 389.3 230.1 389.7 231.5 390.5 237.7 390.9 239.3 391.7 244.0 392.3 247.9 393.1 254.4 394.7 261.4 393.4 254.3 394.4 261.9 395.6 271.1 395.4 266.5 395.6 267.4 396.7 274.4 398.0 281.6 398.4 282.2 398.3 283.7 399.6 289.4 400.2 290.6 399.8 291.1 400.9 297.5 400.9 297.5 401.7 299.6 403.0 303.1 402.8 304.7 403.4 307.2 403.8 307.8 404.8 313.6 403.9 309.6 405.9 316.1 405.6 316.8 406.3 319.4 406.4 319.7 408.0 323.6 407.9 323.6 408.0 325.2 409.0 327.5 408.6 325.9 408.8 327.7 410.6 331.7 411.7 336.0 410.9 333.5 411.5 336.0 411.8 336.3 412.7 338.8 412.8 338.9 413.1 338.9 413.4 340.2 414.6 343.3 414.9 344.3 415.0 345.1 415.7 345.1 415.8 346.8 416.1 346.5 417.1 349.9 417.1 348.6 416.8 347.7 417.1 348.4 418.6 352.1 418.2 351.3 418.9 351.7 419.7 353.7 420.1 354.6 420.2 355.2 421.2 356.6 420.7 354.3 421.8 357.4 422.2 356.1 422.3 358.1 422.4 356.8 422.8 358.6 424.4 361.2 423.4 360.0 423.9 360.0 424.7 361.5 425.2 361.7 425.9 362.4 425.7 362.8 425.3 361.3 427.2 364.4 426.7 363.2 427.2 363.4 427.8 364.0 426.9 364.0 429.2 365.1 428.0 364.7 429.2 366.0 429.2 366.3 429.3 364.9 430.2 366.6 430.7 367.3 431.0 367.3 431.5 368.0 431.5 367.2 432.2 368.5 431.5 367.4 432.8 368.9 432.6 368.5 433.5 368.9 433.9 369.3 433.8 369.2 434.4 369.9 434.9 369.1 434.9 370.2 435.5 370.5 435.8 370.4 435.8 370.4 437.0 371.5 437.7 372.3 437.5 371.5 437.7 372.0 437.4 371.4 437.6 371.3 439.0 372.3 439.3 372.4 439.5 372.6 439.4 372.6 440.0 373.0 440.4 373.4 440.9 373.2 440.2 373.0 441.0 373.3 442.5 374.1 442.2 374.1 442.3 373.5 443.0 374.0 443.5 373.8 444.3 375.1 443.2 374.6 443.9 374.0 444.6 374.8 444.8 375.0 445.6 374.8 445.5 375.5 445.6 375.4 446.0 374.8 446.2 374.9 446.5 374.5 447.2 375.5 447.9 375.3 447.5 375.9 447.8 375.3 448.4 375.8 449.1 376.1 449.4 375.8 449.4 376.2 450.4 376.7 450.4 375.6 450.4 376.6 451.2 376.3 451.0 376.1 451.6 375.9 452.3 376.8 452.6 376.5 452.6 377.0 453.3 376.7 453.0 376.7 453.8 376.5 454.6 376.5 454.1 376.6 454.2 377.0 455.2 377.2 455.1 377.0 456.3 377.0 455.7 376.7 456.2 377.2 456.8 377.3 456.7 377.5 457.3 377.1 457.0 377.1 458.6 378.0 458.3 377.7 458.2 377.1 459.2 377.2 459.9 377.4 459.7 377.5 460.2 377.8 460.6 378.0 460.6 377.7 461.4 377.8 461.0 377.8 462.5 378.0 462.3 378.4 462.5 377.9 462.4 378.0 463.0 377.9 463.4 378.6 463.9 377.5 463.5 378.5 464.1 378.5 464.3 378.2 465.9 378.1 465.3 378.3 466.0 378.2 465.9 378.8 465.9 377.8 467.0 378.4 467.3 378.8 467.2 378.5 467.1 378.8 468.1 378.7 467.7 378.8 468.8 378.8 469.5 378.2 469.0 378.5 469.6 379.0 470.3 378.5 469.6 379.3 471.1 378.6 471.4 378.6 471.1 379.1 471.3 378.7 472.3 379.5 471.7 378.8 472.2 378.8 472.6 379.3 472.9 378.9 473.9 379.3 473.8 379.2 474.4 379.2 474.7 379.3 474.9 379.2 475.2 379.1 475.1 379.0 476.5 379.3 475.6 378.9 476.5 379.3 477.0 378.7 476.9 379.3 477.5 379.1 478.3 379.1 478.4 379.3 478.8 379.3 479.1 379.6 480.2 379.4 478.5 379.4 480.0 379.9 480.2 379.6 480.3 379.5 480.3 379.1 480.6 380.1 481.7 380.3 482.3 379.5 482.5 380.2 482.7 380.0 483.2 379.5 482.6 379.9 483.0 379.3 484.4 380.2 484.2 380.8 484.9 379.7 484.5 379.7 485.0 380.2 485.5 379.9 486.3 379.9 486.1 379.8 486.7 380.0 487.1 379.7 487.3 379.7 487.5 380.2 487.4 380.4 489.2 380.7 488.6 380.0 488.6 380.4 489.6 380.4 489.5 380.2 489.6 380.1 490.2 380.1 490.9 380.4 491.0 380.8 491.3 380.5 491.5 380.6 492.4 380.5 492.9 380.8 492.3 380.1 493.6 380.4 493.0 380.5 492.8 380.9 494.9 380.9 494.0 380.2 494.7 380.5 494.8 380.0 496.0 380.5 495.0 381.0 495.7 380.2 496.3 380.6 496.7 380.5 496.9 380.4 497.3 380.6 497.1 380.5 497.3 380.5 498.0 381.0 499.4 380.8 499.2 380.9 499.1 380.4 498.9 380.7 500.3 380.9 500.3 380.8 500.2 380.9 500.8 380.8 500.9 380.6 501.4 380.7 502.0 380.8 502.0 381.2 502.2 381.5 502.2 380.8 503.2 380.6 503.4 381.4 503.9 380.8 503.6 380.8 503.8 381.3 504.7 380.8 505.3 380.8 505.2 380.9 505.9 381.3 506.0 380.8 506.8 381.3 506.8 381.2 507.2 380.8 507.1 381.0 507.7 381.0 508.2 381.0 508.3 380.8 507.5 381.7 508.6 381.3 509.2 381.0 509.4 381.4 509.8 381.4 510.4 380.9 510.8 381.0 511.2 381.3 510.6 381.6 511.3 381.0 512.1 381.1 512.7 381.4 512.6 381.2 512.9 381.4 512.6 381.2 513.9 381.8 513.9 381.1 514.5 381.1 514.4 381.1 515.2 381.1 515.1 381.2 515.6 381.4 515.6 381.1 515.8 381.1 516.0 381.4 516.9 381.5 517.7 381.5 517.6 381.6 517.2 381.3 518.0 381.0 518.9 381.7 518.3 381.5 519.5 381.5 520.2 381.5 519.7 381.3 520.2 381.1 520.4 381.7 521.0 381.4 521.3 381.5 522.2 381.8 521.4 381.7 522.6 381.9 522.3 382.0 523.1 381.6 522.6 381.2 523.3 381.8 523.9 381.5 524.2 381.3 524.0 380.9 525.5 381.6 524.3 381.2 525.2 381.2 525.7 381.8 525.9 382.2 526.0 381.1 527.5 381.3 526.7 381.5 527.6 381.6 526.8 381.6 527.8 381.4 527.8 381.4 528.6 380.9 529.7 381.8 529.0 381.6 529.7 381.3 529.7 381.5 530.3 381.6 530.9 382.1 531.1 381.7 531.3 381.4 530.7 381.9 531.5 381.2 532.9 381.5 532.4 381.4 532.6 382.1 533.7 381.7 533.2 381.6 534.5 381.5 534.3 382.3 534.8 381.3 535.0 381.8 535.2 381.3 535.3 382.2 535.8 381.2 537.2 381.8 536.8 381.9 536.8 382.0 536.9 381.7 538.3 381.7 537.8 381.7 537.9 381.1 539.3 381.3 538.7 381.6 538.5 381.6 540.0 381.6 539.7 382.0 540.1 381.3 540.4 381.7 541.5 382.0 540.3 381.8 541.5 381.7 542.4 381.8 542.2 381.6 542.5 382.0 543.2 381.4 542.5 381.9 543.2 381.9 543.3 380.9 544.3 381.7 545.2 381.7 544.8 381.2 544.8 382.0 545.7 381.9 546.0 382.0 545.4 381.1 546.9 381.5 546.9 381.8 547.4 382.0 547.1 381.8 547.8 381.9 547.7 381.7 548.2 381.8 548.7 381.7 548.7 382.0 549.6 381.5 549.0 381.5 550.6 381.7 550.5 382.0 551.5 382.1 551.6 381.7 551.6 381.6 551.8 381.3 551.8 381.4 552.4 381.8 553.0 381.7 552.8 381.9 553.8 381.9 553.2 381.8 554.5 381.5 553.8 381.9 554.2 381.2 554.4 381.5 555.8 381.7 555.9 381.8 556.0 381.7 555.8 381.3 556.7 381.3 557.0 381.9 557.7 382.0 557.3 381.6 558.3 381.2 558.4 381.9 558.8 381.7 558.6 381.5 559.9 381.9 560.0 381.2 560.9 381.9 559.7 381.7 560.8 381.8 561.2 381.7 561.0 381.5 561.4 382.2 561.9 381.5 562.9 381.7 562.4 381.2 562.7 382.0 563.8 381.9 563.4 381.1 563.4 381.3 563.8 381.7 564.6 381.4 564.5 381.8 565.2 381.3 565.0 381.5 565.9 382.4 565.6 381.7 566.7 381.6 566.4 381.5 567.2 381.4 567.4 382.2 568.1 382.0 568.1 382.1 568.9 381.5 568.6 381.9 569.2 382.0 569.9 382.2 569.1 381.5 570.1 381.5 570.5 381.8 570.5 382.2 570.8 381.7 571.8 381.7 571.4 381.5 572.1 381.5 572.4 381.6 572.3 381.2 573.4 382.0 573.1 382.1 573.3 381.9 573.8 382.0 574.2 381.5 574.2 381.4 575.7 381.6 575.5 382.1 575.5 381.9 575.9 381.6 575.9 381.7 575.7 381.2 576.3 381.4 577.2 381.5 577.3 381.5 577.8 381.7 577.6 382.3 579.2 381.4 578.8 381.6 579.4 382.5 579.5 382.2 580.3 382.2 579.8 381.6 581.2 381.5 581.7 382.1 581.6 381.8 581.6 382.0 582.0 381.9 582.5 381.6 582.5 381.5 582.2 381.7 582.3 381.8 583.6 381.7 583.6 381.3 584.2 381.7 584.3 381.1 584.8 381.5 585.0 381.4 585.7 382.1 586.1 382.0 586.2 381.5 587.0 381.6 586.6 381.5 587.0 381.7 587.3 381.6 588.3 381.2 588.4 381.3 588.1 381.7 589.2 381.8 589.3 381.8 589.1 381.8 589.8 381.8 590.1 381.0 590.0 381.8 590.2 381.0 591.5 381.8 591.2 381.7 591.5 381.6 591.7 381.8 592.8 382.0 592.9 382.2 593.1 381.4 593.1 381.4 594.4 381.4 595.0 381.9 594.4 381.6 593.9 381.6 594.6 382.0 595.4 381.7 596.1 381.9 595.6 381.6 596.0 381.6 596.9 381.6 597.0 381.6 596.8 381.5 598.2 382.0 598.1 382.0 598.1 381.8 598.5 381.5 598.0 382.2 599.5 381.7 599.0 381.6 600.1 381.9 601.2 381.7 600.9 381.5 600.9 381.6 601.1 382.1 601.3 381.5 602.6 382.0 602.9 381.5 602.7 381.5 602.3 381.7 603.0 381.8 604.2 381.8 603.1 382.2 604.7 381.7 604.0 381.6 604.8 381.8 605.0 382.0 605.3 381.8 606.3 381.6 605.9 381.2 607.0 381.8 607.1 381.8 606.9 381.5 607.4 381.7 607.4 381.6 608.5 381.8 608.4 381.0 608.8 381.8 609.1 381.5 609.5 382.0 610.3 381.9 610.6 382.1 610.2 382.0 611.0 381.8 610.6 381.9 611.4 380.5"/>
<path class="g" d="M117.36 380.5 118.15 380.5 123.71 380.5 129.28 380.5 134.84 380.5 140.4 380.5 145.97 380.5 151.53 380.5 157.09 380.5 162.65 380.5 168.22 380.5 173.78 380.5 179.34 380.49 184.91 380.49 190.47 380.49 196.03 380.48 201.59 380.48 207.16 380.47 212.72 380.45 218.28 380.43 223.85 380.4 229.41 380.36 234.97 380.3 240.53 380.21 246.1 380.08 251.66 379.89 257.22 379.63 262.79 379.24 268.35 378.69 273.91 377.9 279.48 376.76 285.04 375.13 290.6 372.8 296.16 369.47 301.73 364.76 307.29 358.11 312.85 348.83 318.42 336.06 323.98 318.83 329.54 296.21 335.1 267.69 340.67 233.67 346.23 196.21 351.79 159.46 357.36 129.42 362.92 112.34 368.48 112.34 374.04 129.42 379.61 159.46 385.17 196.21 390.73 233.67 396.3 267.69 401.86 296.21 407.42 318.83 412.98 336.06 418.55 348.83 424.11 358.11 429.67 364.76 435.24 369.47 440.8 372.8 446.36 375.13 451.92 376.76 457.49 377.9 463.05 378.69 468.61 379.24 474.18 379.63 479.74 379.89 485.3 380.08 490.87 380.21 496.43 380.3 501.99 380.36 507.55 380.4 513.12 380.43 518.68 380.45 524.24 380.47 529.81 380.48 535.37 380.48 540.93 380.49 546.49 380.49 552.06 380.49 557.62 380.5 563.18 380.5 568.75 380.5 574.31 380.5 579.87 380.5 585.43 380.5 591 380.5 596.56 380.5 602.12 380.5 607.69 380.5 611.39 380.5"/>
<path class="ax" d="M100.8 10.8H630.6V399.2H100.8Z"/>
<path class="tk" d="M100.8 399.2v9M233.25 399.2v9M365.7 399.2v9M498.15 399.2v9M630.6 399.2v9M167.03 399.2v5M299.48 399.2v5M431.93 399.2v5M564.38 399.2v5M100.8 380.5h-9M100.8 306.52h-9M100.8 232.54h-9M100.8 158.56h-9M100.8 84.58h-9M100.8 10.6h-9M100.8 343.51h-5M100.8 269.53h-5M100.8 195.55h-5M100.8 121.57h-5M100.8 47.59h-5"/>
<text class="t" x="100.3" y="437.7" text-anchor="middle">−2</text>
<text class="t" x="232.75" y="437.7" text-anchor="middle">−1</text>
<text class="t" x="365.2" y="437.7" text-anchor="middle">0</text>
<text class="t" x="497.65" y="437.7" text-anchor="middle">1</text>
<text class="t" x="630.1" y="437.7" text-anchor="middle">2</text>
<text class="t" x="80.4" y="389.3" text-anchor="end">0</text>
<text class="t" x="80.4" y="315.32" text-anchor="end">20</text>
<text class="t" x="80.4" y="241.34" text-anchor="end">40</text>
<text class="t" x="80.4" y="167.36" text-anchor="end">60</text>
<text class="t" x="80.4" y="93.38" text-anchor="end">80</text>
<text class="t" x="80.4" y="19.4" text-anchor="end">100</text>
<text class="L" x="-1.8" y="23.7">a</text>
<text class="t" x="278.8" y="473.5">Detuning (GHz)</text>
<text class="t" transform="translate(18.7 301.9) rotate(-90)">Transmission (%)</text>
<path class="c" d="M133.3 909.3 133.3 910.3 135.1 910.3 135.5 913.4 136.8 912.4 137.3 911.9 138.5 912.9 140.1 907.7 141.0 912.4 141.3 910.7 142.0 907.5 143.3 909.6 144.3 907.8 145.5 911.8 146.1 908.0 147.0 909.7 148.3 906.6 149.0 910.0 150.7 908.9 151.7 913.6 152.5 909.5 153.7 912.1 154.6 908.0 155.4 906.7 156.1 912.6 157.5 910.5 158.0 908.9 159.4 911.9 160.4 912.9 161.4 909.3 162.2 911.6 162.7 909.9 164.1 907.5 164.6 905.7 166.3 912.1 167.0 904.6 167.8 913.3 168.8 910.4 169.5 909.3 171.1 907.3 171.8 906.2 172.9 908.0 174.0 908.6 174.1 906.4 175.7 910.2 176.9 908.4 177.1 914.4 178.2 910.6 179.1 908.2 180.6 911.6 180.9 910.9 182.5 908.9 182.9 909.5 184.5 910.1 184.7 910.1 185.9 905.8 186.9 910.8 187.7 912.1 189.6 909.6 189.9 909.4 191.2 910.0 191.9 911.0 192.5 913.6 194.2 908.7 195.4 909.7 196.1 914.5 196.9 909.4 197.7 906.5 198.4 914.3 199.4 908.4 200.9 912.0 201.4 908.1 203.2 910.0 203.6 906.7 204.2 911.0 205.2 910.2 206.1 909.2 207.7 908.9 208.6 904.4 210.1 910.2 210.2 911.3 211.6 909.1 212.6 908.5 213.2 913.0 214.3 909.8 214.9 909.6 216.2 906.7 217.0 907.1 217.8 908.8 218.9 907.9 220.2 911.3 221.3 908.9 221.9 904.4 223.4 912.6 224.0 912.3 224.6 909.5 226.0 910.6 226.6 909.4 228.3 910.9 229.4 906.9 230.0 910.6 230.8 902.6 231.4 909.3 232.6 909.8 234.2 909.0 234.7 909.1 235.7 910.3 236.8 908.5 237.2 909.1 239.1 906.3 239.2 908.5 240.7 909.9 241.5 912.1 242.4 907.4 243.1 907.6 244.9 907.5 245.6 904.7 245.9 909.0 247.6 907.3 248.4 911.6 249.2 911.8 250.1 906.7 251.3 913.4 252.6 906.8 253.7 906.6 253.9 909.2 255.2 907.6 256.3 904.9 257.6 910.9 257.7 909.4 258.9 905.9 260.0 907.1 260.6 902.8 262.5 904.3 263.1 905.4 263.6 905.3 265.1 907.6 265.9 908.8 266.4 911.9 268.1 907.7 268.4 909.9 269.5 906.5 271.1 909.4 271.6 904.9 273.2 905.0 273.3 908.5 274.5 902.3 276.0 904.5 276.2 907.7 277.4 905.0 278.7 901.2 279.4 905.8 280.9 905.9 281.6 900.5 282.7 902.6 283.5 904.7 284.2 906.3 285.4 908.3 285.8 906.2 287.6 901.1 288.4 901.4 289.7 901.4 290.4 904.7 291.5 903.3 291.7 898.4 292.7 903.1 294.3 899.8 295.3 898.7 295.6 899.6 296.7 898.5 298.0 897.5 299.4 894.4 299.4 892.0 301.2 893.0 302.0 892.2 303.0 894.0 303.6 890.9 304.2 887.0 305.3 888.5 306.9 887.8 307.9 887.9 308.9 881.4 310.0 880.8 310.4 879.9 311.5 879.2 312.6 876.7 314.0 876.3 314.3 871.2 315.3 869.8 316.5 870.0 317.3 871.8 317.9 866.4 319.6 861.5 320.6 854.2 321.4 858.9 321.8 850.9 323.3 851.3 324.5 842.7 325.4 842.8 325.8 841.5 327.0 834.9 328.5 826.9 328.6 827.6 329.8 825.5 330.8 816.4 331.6 813.7 332.8 810.4 334.3 795.7 334.8 802.9 335.6 799.1 336.4 790.0 337.9 779.3 338.6 780.4 339.4 768.4 341.0 764.7 342.0 758.7 342.4 748.8 343.6 751.0 344.8 734.2 345.8 733.8 346.9 720.5 348.0 720.2 348.2 719.9 349.3 713.2 350.3 700.2 351.2 691.1 352.3 690.0 353.8 684.5 353.9 679.9 355.1 675.9 356.7 664.7 357.1 670.5 358.2 661.7 359.0 652.9 359.9 657.4 360.9 654.6 362.5 647.9 362.7 648.0 363.7 649.7 364.8 645.2 365.7 645.8 366.7 641.6 367.7 646.9 368.5 649.1 370.2 656.6 370.4 649.4 371.8 654.2 373.0 662.8 373.8 672.5 374.6 659.9 375.6 673.9 377.0 680.9 377.7 686.3 379.1 693.1 380.0 695.2 380.4 702.3 381.5 705.0 383.0 715.7 383.0 712.2 384.8 730.5 384.9 731.2 385.8 730.5 386.9 744.0 387.9 748.4 389.4 753.6 390.4 762.2 390.7 766.9 392.1 779.0 393.2 782.2 393.6 784.6 394.7 789.3 396.1 803.8 397.2 806.6 398.0 812.8 398.6 813.9 399.6 819.3 400.4 823.5 402.0 828.8 403.2 833.2 403.8 841.4 405.2 844.0 406.1 846.8 406.9 850.0 407.5 850.4 408.6 858.7 410.0 859.5 410.9 866.0 411.3 865.6 412.8 866.7 413.7 870.8 414.7 873.3 415.5 875.2 416.1 874.9 417.6 875.9 418.5 880.8 419.3 885.8 419.8 882.3 421.6 890.1 422.4 885.2 422.8 887.0 424.3 890.9 425.7 891.4 426.7 889.9 426.9 893.9 427.8 891.6 428.8 897.5 430.5 897.8 430.9 897.0 432.2 900.3 432.5 896.3 434.1 899.0 434.6 893.5 435.7 901.5 436.9 900.5 438.3 899.4 439.0 897.2 440.1 903.9 440.6 900.9 441.7 902.2 442.6 901.0 443.3 905.7 444.4 902.5 445.2 907.0 446.3 906.5 447.6 906.6 448.7 908.3 449.3 903.2 450.2 900.4 450.9 903.7 452.2 906.1 453.2 905.3 454.2 901.7 455.2 909.4 455.8 903.5 457.3 905.0 458.3 905.0 459.0 903.3 460.6 905.1 461.3 910.5 462.5 906.4 462.7 908.3 464.5 901.0 464.7 908.1 466.1 911.3 467.2 908.6 467.6 907.2 468.4 907.7 470.0 908.3 470.7 912.9 471.7 904.9 472.7 908.6 473.5 906.3 474.8 907.1 476.2 908.6 476.8 904.3 477.5 906.5 478.6 905.6 479.6 906.2 480.8 911.1 481.8 909.8 482.2 905.5 483.1 907.7 484.1 909.4 485.5 905.7 486.5 907.3 487.4 908.8 487.9 909.6 488.9 910.6 490.1 909.9 491.7 910.8 492.0 911.4 493.3 904.3 493.7 908.3 495.6 911.0 496.2 907.2 497.1 913.5 498.5 906.9 499.4 908.7 499.5 913.1 501.2 916.8 502.3 906.6 503.0 907.9 503.8 912.8 504.5 907.3 505.3 914.3 507.1 912.7 507.9 910.8 508.2 904.6 509.4 908.3 510.6 914.2 512.1 907.1 512.1 907.5 513.3 909.5 514.4 909.3 515.5 910.3 516.0 906.4 517.5 912.0 518.9 910.1 519.0 912.0 520.2 908.6 521.8 912.2 522.3 911.0 523.2 905.9 524.4 911.0 524.9 910.8 526.0 910.5 526.7 911.6 528.3 915.9 529.2 909.9 530.0 907.4 531.0 910.1 532.3 908.3 533.5 908.5 533.5 912.8 534.7 906.6 536.0 915.1 537.0 910.6 538.1 911.5 538.7 908.5 540.0 912.0 540.8 912.4 542.2 910.5 543.0 912.3 544.1 908.6 544.9 913.3 545.2 914.7 546.7 911.8 548.1 911.8 549.0 912.4 549.8 908.0 550.7 912.7 551.3 906.9 552.1 911.7 553.3 912.8 554.4 905.8 555.2 910.3 556.8 912.1 557.4 911.0 558.6 907.3 559.4 912.1 560.1 907.5 560.8 909.4 562.6 912.0 563.4 907.6 563.7 909.0 564.6 911.8 566.1 914.2 566.9 907.0 567.5 909.4 568.9 909.9 570.1 908.0 570.9 909.3 572.3 905.4 573.0 910.9 573.9 909.5 574.4 906.9 575.5 908.6 577.0 912.6 577.6 910.5 578.7 907.3 579.4 906.3 580.3 915.3 581.3 908.6 582.3 913.4 583.6 909.7 584.6 905.4 585.5 908.8 586.4 908.0 587.3 909.3 588.6 908.6 589.8 908.2 590.6 912.6 590.9 909.1 591.7 906.5 592.8 909.7 593.9 911.5 595.1 909.8 596.5 910.3 596.9 912.3 597.7 911.1"/>
<path class="c" d="M132.8 908.6 133.1 908.8 133.4 908.6 133.8 909.4 134.1 909.5 134.4 908.6 134.8 908.6 135.1 908.7 135.4 908.9 135.7 908.8 136.1 908.6 136.4 909.1 136.7 908.7 137.1 909.0 137.4 908.2 137.7 908.7 138.0 908.7 138.4 908.5 138.7 908.5 139.0 908.5 139.3 909.0 139.7 908.7 140.0 908.5 140.3 908.7 140.7 908.7 141.0 908.9 141.3 908.7 141.6 908.4 142.0 909.1 142.3 909.2 142.6 909.1 143.0 909.2 143.3 908.4 143.6 908.2 143.9 908.6 144.3 908.8 144.6 908.4 144.9 908.5 145.2 909.4 145.6 908.8 145.9 908.1 146.2 908.9 146.6 909.0 146.9 909.0 147.2 908.3 147.5 908.9 147.9 908.7 148.2 908.4 148.5 908.7 148.9 908.8 149.2 909.1 149.5 909.1 149.8 908.5 150.2 909.2 150.5 908.5 150.8 908.4 151.2 908.3 151.5 908.8 151.8 909.0 152.1 908.7 152.5 908.4 152.8 908.6 153.1 908.6 153.4 908.8 153.8 908.5 154.1 909.3 154.4 909.1 154.8 908.3 155.1 908.6 155.4 908.6 155.7 909.3 156.1 909.0 156.4 908.9 156.7 908.8 157.1 908.4 157.4 908.9 157.7 908.7 158.0 909.0 158.4 908.8 158.7 908.7 159.0 908.7 159.3 908.5 159.7 909.1 160.0 908.5 160.3 908.6 160.7 909.0 161.0 908.4 161.3 909.0 161.6 908.9 162.0 908.6 162.3 908.4 162.6 908.9 163.0 908.3 163.3 908.7 163.6 909.0 163.9 908.6 164.3 908.8 164.6 909.0 164.9 908.8 165.3 908.4 165.6 908.7 165.9 908.8 166.2 908.5 166.6 909.2 166.9 908.6 167.2 908.4 167.5 909.1 167.9 909.1 168.2 909.0 168.5 908.8 168.9 909.0 169.2 908.8 169.5 909.1 169.8 908.7 170.2 908.6 170.5 908.6 170.8 908.9 171.2 908.5 171.5 909.2 171.8 909.0 172.1 908.8 172.5 908.4 172.8 908.9 173.1 908.6 173.4 908.3 173.8 908.2 174.1 908.3 174.4 909.0 174.8 908.7 175.1 908.6 175.4 908.6 175.7 908.6 176.1 908.8 176.4 908.7 176.7 909.2 177.1 908.5 177.4 908.7 177.7 908.9 178.0 908.2 178.4 908.8 178.7 908.9 179.0 908.6 179.3 908.6 179.7 908.6 180.0 908.8 180.3 908.5 180.7 908.7 181.0 908.4 181.3 908.7 181.6 909.0 182.0 909.0 182.3 908.6 182.6 908.5 183.0 909.2 183.3 908.6 183.6 908.8 183.9 908.7 184.3 909.0 184.6 909.1 184.9 908.9 185.2 909.0 185.6 908.9 185.9 908.7 186.2 908.7 186.6 908.2 186.9 909.0 187.2 908.9 187.5 908.7 187.9 908.5 188.2 909.0 188.5 909.1 188.9 908.6 189.2 908.6 189.5 908.5 189.8 908.5 190.2 909.2 190.5 908.4 190.8 908.7 191.1 908.1 191.5 908.8 191.8 909.3 192.1 908.7 192.5 908.6 192.8 908.6 193.1 908.6 193.4 908.8 193.8 909.2 194.1 908.7 194.4 908.8 194.8 908.9 195.1 908.7 195.4 908.8 195.7 909.3 196.1 908.9 196.4 908.9 196.7 908.7 197.0 908.2 197.4 908.7 197.7 908.5 198.0 909.3 198.4 908.3 198.7 908.8 199.0 908.5 199.3 909.0 199.7 908.6 200.0 908.4 200.3 908.6 200.7 908.6 201.0 908.8 201.3 908.8 201.6 908.5 202.0 908.7 202.3 908.6 202.6 908.8 202.9 908.7 203.3 908.4 203.6 908.2 203.9 908.7 204.3 908.8 204.6 908.5 204.9 908.3 205.2 908.5 205.6 908.2 205.9 908.6 206.2 908.8 206.5 909.1 206.9 908.3 207.2 908.5 207.5 908.7 207.9 908.4 208.2 908.8 208.5 908.2 208.8 908.2 209.2 908.2 209.5 908.6 209.8 908.1 210.1 908.2 210.5 908.0 210.8 908.9 211.1 908.2 211.5 908.1 211.8 908.5 212.1 908.1 212.4 908.4 212.8 908.0 213.1 908.5 213.4 908.4 213.7 908.7 214.1 907.8 214.4 908.6 214.7 908.7 215.1 908.6 215.4 908.3 215.7 908.3 216.0 908.2 216.4 907.9 216.7 908.0 217.0 908.7 217.3 908.2 217.7 908.3 218.0 908.0 218.3 908.2 218.7 907.9 219.0 908.2 219.3 907.7 219.6 908.5 220.0 907.9 220.3 907.9 220.6 908.4 220.9 908.6 221.3 908.3 221.6 908.0 221.9 907.7 222.2 908.5 222.6 908.2 222.9 908.5 223.2 907.9 223.6 908.0 223.9 908.1 224.2 907.8 224.5 907.9 224.9 907.6 225.2 908.1 225.5 908.2 225.8 908.0 226.2 908.0 226.5 907.6 226.8 908.1 227.2 908.1 227.5 908.1 227.8 908.1 228.1 908.5 228.5 907.8 228.8 907.7 229.1 907.8 229.4 908.1 229.8 907.5 230.1 907.6 230.4 907.7 230.7 907.6 231.1 907.8 231.4 907.6 231.7 907.6 232.1 908.1 232.4 907.8 232.7 907.9 233.0 907.5 233.4 908.4 233.7 907.5 234.0 907.6 234.3 907.6 234.7 907.5 235.0 908.0 235.3 907.5 235.6 907.7 236.0 907.7 236.3 907.1 236.6 907.6 236.9 907.1 237.3 907.4 237.6 907.5 237.9 907.5 238.3 907.8 238.6 907.5 238.9 907.3 239.2 906.9 239.6 907.1 239.9 907.0 240.2 907.5 240.5 907.5 240.9 907.1 241.2 907.1 241.5 907.5 241.8 906.9 242.2 907.3 242.5 907.1 242.8 907.3 243.1 906.9 243.5 906.8 243.8 906.8 244.1 907.3 244.5 907.0 244.8 906.3 245.1 907.0 245.4 906.8 245.8 906.9 246.1 907.1 246.4 906.4 246.7 906.4 247.1 907.1 247.4 906.7 247.7 906.3 248.0 906.7 248.4 906.7 248.7 906.5 249.0 906.5 249.3 907.1 249.7 906.9 250.0 906.2 250.3 906.8 250.6 906.6 251.0 906.8 251.3 906.0 251.6 906.9 252.0 906.5 252.3 906.6 252.6 906.6 252.9 906.8 253.3 906.7 253.6 906.5 253.9 906.3 254.2 906.9 254.6 906.3 254.9 906.6 255.2 906.3 255.5 906.4 255.9 906.3 256.2 906.3 256.5 906.1 256.8 906.2 257.2 906.6 257.5 906.8 257.8 906.5 258.1 906.0 258.5 906.5 258.8 906.3 259.1 905.5 259.4 906.1 259.8 906.0 260.1 905.8 260.4 905.7 260.7 906.0 261.1 905.8 261.4 906.4 261.7 905.7 262.0 905.6 262.4 906.2 262.7 905.4 263.0 905.1 263.3 906.4 263.7 905.7 264.0 905.2 264.3 905.3 264.7 905.7 265.0 905.7 265.3 905.6 265.6 905.2 266.0 905.6 266.3 905.8 266.6 905.3 266.9 905.5 267.3 904.8 267.6 905.5 267.9 905.1 268.2 905.2 268.5 905.5 268.9 905.2 269.2 905.6 269.5 904.9 269.8 905.2 270.2 905.3 270.5 905.3 270.8 904.4 271.1 904.6 271.5 905.0 271.8 904.7 272.1 904.5 272.4 904.4 272.8 904.5 273.1 905.1 273.4 903.9 273.7 904.4 274.1 903.9 274.4 904.7 274.7 904.0 275.0 903.8 275.3 903.8 275.7 904.4 276.0 904.1 276.3 903.5 276.6 904.1 277.0 903.6 277.3 903.8 277.6 904.1 277.9 903.3 278.3 903.2 278.6 903.3 278.9 903.3 279.2 903.0 279.5 903.8 279.9 903.2 280.2 902.6 280.5 902.9 280.8 902.6 281.1 902.9 281.5 902.7 281.8 903.0 282.1 902.4 282.4 902.4 282.7 902.5 283.1 902.3 283.4 902.2 283.7 902.1 284.0 901.8 284.3 901.6 284.7 902.4 285.0 901.6 285.3 901.3 285.6 901.8 285.9 901.4 286.3 900.5 286.6 901.3 286.9 900.7 287.2 900.8 287.5 901.2 287.8 900.7 288.2 901.0 288.5 900.4 288.8 899.9 289.1 899.9 289.4 899.8 289.7 899.9 290.0 899.4 290.4 899.1 290.7 899.0 291.0 898.8 291.3 898.8 291.6 898.6 291.9 898.8 292.2 897.9 292.5 898.5 292.9 898.3 293.2 898.0 293.5 897.8 293.8 897.0 294.1 897.3 294.4 897.1 294.7 896.9 295.0 896.6 295.3 895.9 295.6 895.7 296.0 896.0 296.3 895.1 296.6 895.2 296.9 895.0 297.2 894.5 297.5 894.6 297.8 894.2 298.1 894.0 298.4 894.1 298.7 893.9 299.0 893.5 299.3 893.2 299.6 892.8 299.9 892.4 300.2 891.6 300.5 891.6 300.8 891.1 301.1 890.9 301.4 890.9 301.7 890.3 302.0 890.3 302.3 890.0 302.6 889.0 302.9 888.8 303.2 888.4 303.5 887.7 303.8 888.0 304.1 887.2 304.4 887.4 304.7 886.5 305.1 885.7 305.4 885.8 305.7 885.3 306.0 884.6 306.4 883.5 306.7 883.3 307.0 883.0 307.3 882.3 307.7 881.9 308.0 881.6 308.3 881.1 308.7 880.2 309.0 879.8 309.3 879.0 309.6 878.8 310.0 877.8 310.3 877.6 310.6 876.5 311.0 875.9 311.3 875.7 311.6 874.2 311.9 874.1 312.3 873.7 312.6 873.2 312.9 872.1 313.2 871.4 313.6 870.9 313.9 870.3 314.2 869.3 314.6 868.7 314.9 867.8 315.2 867.1 315.5 865.9 315.9 866.0 316.2 863.8 316.5 863.6 316.9 862.7 317.2 862.1 317.5 860.5 317.8 860.0 318.2 859.1 318.5 858.3 318.8 856.9 319.2 856.0 319.5 855.3 319.8 853.6 320.1 853.3 320.5 851.7 320.8 850.9 321.1 850.3 321.4 848.9 321.8 847.5 322.1 846.7 322.4 845.4 322.8 844.2 323.1 842.9 323.4 842.0 323.7 840.1 324.1 839.3 324.4 837.7 324.7 836.9 325.1 835.5 325.4 834.5 325.7 832.9 326.0 831.1 326.4 830.1 326.7 829.0 327.0 827.5 327.3 825.8 327.7 824.5 328.0 822.4 328.3 821.5 328.7 820.0 329.0 818.3 329.3 816.5 329.6 815.9 330.0 814.1 330.3 812.4 330.6 811.2 331.0 809.0 331.3 807.4 331.6 805.4 331.9 803.8 332.3 802.1 332.6 800.4 332.9 798.9 333.3 796.2 333.6 794.8 333.9 793.6 334.2 791.9 334.6 789.7 334.9 787.7 335.2 786.0 335.5 784.0 335.9 782.0 336.2 780.3 336.5 778.8 336.9 776.7 337.2 775.1 337.5 772.4 337.8 770.8 338.2 768.6 338.5 766.0 338.8 764.9 339.2 762.6 339.5 760.8 339.8 759.1 340.1 756.2 340.5 754.4 340.8 752.4 341.1 750.0 341.4 748.2 341.8 745.9 342.1 743.6 342.4 742.1 342.8 739.6 343.1 737.6 343.4 735.2 343.7 732.7 344.1 731.6 344.4 728.7 344.7 727.1 345.1 724.8 345.4 722.8 345.7 720.8 346.0 719.0 346.4 716.6 346.7 714.8 347.0 712.0 347.4 710.2 347.7 708.5 348.0 706.4 348.3 703.9 348.7 702.7 349.0 700.2 349.3 698.2 349.6 696.6 350.0 694.1 350.3 692.6 350.6 690.2 351.0 688.6 351.3 687.0 351.6 685.0 351.9 682.9 352.3 681.7 352.6 679.9 352.9 678.0 353.3 676.1 353.6 674.5 353.9 673.3 354.2 671.8 354.6 669.9 354.9 668.5 355.2 666.9 355.5 666.0 355.9 664.3 356.2 663.1 356.5 661.0 356.9 660.8 357.2 659.3 357.5 658.0 357.8 657.3 358.2 655.8 358.5 654.9 358.8 654.2 359.2 653.0 359.5 651.6 359.8 651.1 360.1 650.0 360.5 649.4 360.8 649.0 361.1 648.6 361.5 648.6 361.8 648.1 362.1 647.1 362.4 646.8 362.8 646.5 363.1 646.6 363.4 646.2 363.7 646.4 364.1 645.8 364.4 646.1 364.7 646.8 365.1 646.5 365.4 646.2 365.7 647.2 366.0 647.5 366.4 647.9 366.7 648.3 367.0 648.6 367.4 649.3 367.7 649.8 368.0 650.8 368.3 651.2 368.7 651.8 369.0 653.4 369.3 654.0 369.6 655.0 370.0 656.1 370.3 657.2 370.6 658.2 371.0 659.7 371.3 661.0 371.6 662.4 371.9 663.3 372.3 665.1 372.6 666.9 372.9 668.0 373.3 669.6 373.6 670.8 373.9 672.4 374.2 674.6 374.6 675.7 374.9 677.7 375.2 679.1 375.6 681.5 375.9 683.0 376.2 684.9 376.5 686.6 376.9 689.3 377.2 690.9 377.5 692.9 377.8 695.0 378.2 697.3 378.5 699.1 378.8 701.1 379.2 702.7 379.5 705.4 379.8 707.2 380.1 709.9 380.5 711.8 380.8 714.1 381.1 716.3 381.5 718.9 381.8 720.7 382.1 722.2 382.4 725.2 382.8 727.8 383.1 729.0 383.4 731.8 383.7 734.1 384.1 736.9 384.4 738.8 384.7 741.0 385.1 743.2 385.4 745.7 385.7 747.5 386.0 750.3 386.4 751.8 386.7 754.3 387.0 756.7 387.4 759.2 387.7 760.8 388.0 763.0 388.3 765.7 388.7 766.9 389.0 769.6 389.3 772.1 389.7 773.4 390.0 776.2 390.3 778.2 390.6 780.4 391.0 782.4 391.3 784.2 391.6 786.4 391.9 788.0 392.3 790.4 392.6 792.1 392.9 794.6 393.3 796.1 393.6 797.8 393.9 799.5 394.2 801.6 394.6 803.3 394.9 805.1 395.2 807.2 395.6 808.6 395.9 810.4 396.2 812.4 396.5 814.3 396.9 815.3 397.2 817.0 397.5 818.9 397.8 820.2 398.2 821.7 398.5 823.8 398.8 825.1 399.2 826.6 399.5 828.2 399.8 829.8 400.1 831.4 400.5 832.5 400.8 834.1 401.1 835.1 401.5 836.8 401.8 838.2 402.1 839.9 402.4 840.9 402.8 842.1 403.1 843.5 403.4 844.9 403.8 846.8 404.1 847.4 404.4 848.3 404.7 849.0 405.1 851.0 405.4 851.6 405.7 853.3 406.0 853.7 406.4 855.1 406.7 856.1 407.0 857.0 407.4 858.3 407.7 859.3 408.0 859.8 408.3 861.5 408.7 862.3 409.0 862.7 409.3 863.7 409.7 865.0 410.0 865.8 410.3 866.4 410.6 866.8 411.0 867.7 411.3 869.0 411.6 869.9 411.9 870.6 412.3 871.8 412.6 872.0 412.9 872.9 413.3 873.2 413.6 874.4 413.9 874.8 414.2 875.8 414.6 876.4 414.9 876.4 415.2 877.8 415.6 878.2 415.9 878.7 416.2 878.8 416.5 879.9 416.9 880.7 417.2 881.0 417.5 881.2 417.9 882.0 418.2 882.5 418.5 882.6 418.8 884.0 419.2 883.9 419.5 885.0 419.8 884.9 420.1 885.5 420.5 886.0 420.8 886.5 421.1 887.0 421.5 888.3 421.8 888.2 422.2 887.7 422.6 888.7 422.9 889.1 423.3 889.3 423.7 889.6 424.0 890.2 424.4 890.3 424.7 890.8 425.1 891.5 425.4 891.6 425.8 891.7 426.2 892.6 426.5 892.6 426.9 893.2 427.2 893.3 427.6 894.0 427.9 893.8 428.3 894.3 428.6 894.1 429.0 894.8 429.3 894.3 429.7 894.9 430.0 895.7 430.4 895.1 430.7 895.9 431.1 896.1 431.4 896.8 431.8 896.7 432.1 897.1 432.5 897.5 432.8 897.6 433.2 897.1 433.5 897.9 433.8 897.9 434.2 898.3 434.5 898.4 434.9 898.6 435.2 898.7 435.6 898.8 435.9 898.8 436.3 899.2 436.6 899.4 436.9 899.8 437.3 899.5 437.6 899.7 438.0 900.1 438.3 900.7 438.6 900.3 439.0 901.0 439.3 900.1 439.7 900.7 440.0 900.5 440.3 901.0 440.7 900.9 441.0 900.7 441.4 901.1 441.7 901.8 442.0 902.0 442.4 901.9 442.7 901.8 443.0 902.3 443.4 902.6 443.7 902.3 444.1 902.3 444.4 902.9 444.7 902.5 445.1 902.3 445.4 903.0 445.7 902.7 446.1 902.8 446.4 902.8 446.7 902.9 447.1 903.3 447.4 903.0 447.7 902.6 448.1 903.2 448.4 903.8 448.7 903.5 449.1 903.0 449.4 903.6 449.8 903.6 450.1 904.1 450.4 904.2 450.8 903.9 451.1 903.8 451.4 904.2 451.8 903.9 452.1 904.2 452.4 904.8 452.8 904.3 453.1 904.1 453.4 903.7 453.7 904.8 454.1 904.3 454.4 904.4 454.7 904.4 455.1 904.5 455.4 904.2 455.7 904.3 456.1 904.9 456.4 905.0 456.7 904.8 457.1 905.3 457.4 904.9 457.7 904.7 458.1 905.1 458.4 905.1 458.7 905.3 459.1 905.1 459.4 905.0 459.7 905.5 460.1 904.9 460.4 905.5 460.7 905.3 461.0 905.2 461.4 905.6 461.7 905.5 462.0 905.7 462.4 905.2 462.7 905.5 463.0 906.0 463.4 905.3 463.7 905.7 464.0 905.1 464.4 905.7 464.7 905.5 465.0 906.0 465.3 905.8 465.7 905.8 466.0 905.5 466.3 905.4 466.7 905.8 467.0 905.9 467.3 906.2 467.7 906.1 468.0 906.0 468.3 905.7 468.6 905.5 469.0 906.1 469.3 906.3 469.6 906.4 470.0 905.9 470.3 905.7 470.6 906.0 471.0 905.7 471.3 906.2 471.6 906.4 471.9 906.2 472.3 906.6 472.6 906.4 472.9 906.5 473.3 906.9 473.6 906.4 473.9 906.2 474.3 906.0 474.6 906.5 474.9 906.1 475.2 906.7 475.6 906.2 475.9 906.7 476.2 906.6 476.6 907.0 476.9 906.1 477.2 906.7 477.6 906.3 477.9 906.7 478.2 906.6 478.5 906.5 478.9 907.1 479.2 906.6 479.5 906.9 479.9 907.1 480.2 906.5 480.5 906.9 480.9 906.5 481.2 906.8 481.5 907.0 481.8 907.1 482.2 906.9 482.5 907.1 482.8 906.7 483.2 907.2 483.5 906.6 483.8 907.1 484.2 907.1 484.5 907.3 484.8 906.4 485.1 907.7 485.5 906.9 485.8 906.8 486.1 906.8 486.5 906.7 486.8 906.8 487.1 907.7 487.4 907.2 487.8 907.5 488.1 907.3 488.4 907.4 488.8 907.0 489.1 907.1 489.4 907.4 489.8 907.6 490.1 907.3 490.4 907.4 490.7 907.6 491.1 907.2 491.4 907.1 491.7 907.7 492.1 907.1 492.4 907.8 492.7 907.7 493.0 908.0 493.4 907.5 493.7 907.1 494.0 908.0 494.4 907.8 494.7 907.9 495.0 907.6 495.4 907.4 495.7 908.1 496.0 907.5 496.3 907.2 496.7 907.8 497.0 907.8 497.3 907.6 497.7 908.4 498.0 908.1 498.3 907.7 498.6 907.8 499.0 907.6 499.3 908.2 499.6 907.9 500.0 908.1 500.3 908.2 500.6 907.7 501.0 907.4 501.3 908.2 501.6 907.9 501.9 907.8 502.3 907.6 502.6 908.2 502.9 908.5 503.3 907.9 503.6 908.3 503.9 908.4 504.2 908.2 504.6 908.1 504.9 908.1 505.2 908.2 505.6 908.7 505.9 908.8 506.2 908.0 506.5 907.8 506.9 908.0 507.2 908.5 507.5 907.9 507.9 908.5 508.2 907.8 508.5 908.1 508.8 908.0 509.2 908.5 509.5 908.1 509.8 908.9 510.2 907.9 510.5 908.6 510.8 908.3 511.1 908.0 511.5 908.0 511.8 908.3 512.1 908.8 512.5 907.9 512.8 908.4 513.1 908.8 513.4 907.9 513.8 907.6 514.1 908.5 514.4 908.0 514.8 908.1 515.1 908.3 515.4 908.2 515.7 908.3 516.1 909.0 516.4 908.6 516.7 908.6 517.1 908.7 517.4 908.4 517.7 908.5 518.0 908.3 518.4 907.8 518.7 908.7 519.0 908.3 519.4 908.0 519.7 908.5 520.0 909.0 520.3 908.5 520.7 908.2 521.0 908.3 521.3 909.0 521.7 908.4 522.0 908.6 522.3 908.7 522.6 908.3 523.0 909.3 523.3 908.1 523.6 908.0 524.0 908.7 524.3 908.9 524.6 909.0 524.9 908.5 525.3 908.8 525.6 909.2 525.9 909.2 526.3 908.4 526.6 908.3 526.9 909.0 527.2 908.2 527.6 908.8 527.9 908.6 528.2 908.9 528.6 908.3 528.9 908.7 529.2 908.7 529.5 908.5 529.9 908.9 530.2 908.2 530.5 908.6 530.9 908.9 531.2 909.0 531.5 908.6 531.8 908.6 532.2 908.7 532.5 909.0 532.8 908.3 533.2 908.7 533.5 908.4 533.8 908.5 534.1 908.7 534.5 908.9 534.8 909.1 535.1 908.4 535.4 908.8 535.8 908.3 536.1 908.3 536.4 908.5 536.8 908.7 537.1 908.4 537.4 908.2 537.7 908.7 538.1 908.5 538.4 908.2 538.7 909.0 539.1 908.5 539.4 908.8 539.7 908.5 540.0 908.4 540.4 908.8 540.7 908.6 541.0 908.2 541.4 908.5 541.7 908.5 542.0 908.7 542.3 908.7 542.7 908.4 543.0 908.8 543.3 908.8 543.6 908.9 544.0 908.8 544.3 908.7 544.6 908.7 545.0 908.8 545.3 908.0 545.6 909.0 545.9 908.7 546.3 908.5 546.6 908.7 546.9 908.7 547.3 909.1 547.6 908.7 547.9 908.5 548.2 909.0 548.6 908.6 548.9 908.5 549.2 908.7 549.6 908.7 549.9 909.2 550.2 908.4 550.5 908.1 550.9 908.4 551.2 908.2 551.5 909.6 551.8 909.0 552.2 908.9 552.5 908.7 552.8 908.9 553.2 909.3 553.5 908.8 553.8 909.3 554.1 908.9 554.5 908.5 554.8 908.2 555.1 908.6 555.5 908.5 555.8 909.3 556.1 909.1 556.4 908.6 556.8 908.6 557.1 908.7 557.4 909.0 557.8 908.9 558.1 908.7 558.4 908.2 558.7 908.8 559.1 909.5 559.4 908.1 559.7 908.6 560.0 908.9 560.4 908.4 560.7 908.6 561.0 908.9 561.4 908.9 561.7 908.5 562.0 908.8 562.3 908.4 562.7 909.0 563.0 909.0 563.3 909.2 563.7 908.8 564.0 908.2 564.3 909.4 564.6 908.7 565.0 909.1 565.3 909.1 565.6 908.2 565.9 909.4 566.3 908.9 566.6 909.5 566.9 909.0 567.3 908.6 567.6 908.8 567.9 908.5 568.2 908.6 568.6 908.9 568.9 908.8 569.2 908.6 569.6 908.9 569.9 909.5 570.2 908.9 570.5 908.7 570.9 908.7 571.2 909.3 571.5 909.1 571.9 908.6 572.2 909.0 572.5 908.5 572.8 909.1 573.2 909.3 573.5 909.2 573.8 908.1 574.1 909.0 574.5 909.0 574.8 908.7 575.1 909.0 575.5 909.4 575.8 909.0 576.1 908.5 576.4 909.3 576.8 909.2 577.1 908.9 577.4 908.7 577.8 909.0 578.1 908.3 578.4 908.9 578.7 909.2 579.1 908.7 579.4 908.7 579.7 908.8 580.0 908.9 580.4 908.2 580.7 908.3 581.0 908.6 581.4 908.8 581.7 908.6 582.0 908.5 582.3 908.7 582.7 909.1 583.0 908.5 583.3 908.6 583.7 909.1 584.0 908.6 584.3 908.5 584.6 908.6 585.0 908.9 585.3 908.8 585.6 909.0 586.0 908.9 586.3 908.4 586.6 908.6 586.9 909.1 587.3 908.6 587.6 908.4 587.9 908.3 588.2 908.6 588.6 909.0 588.9 908.9 589.2 909.0 589.6 909.0 589.9 909.2 590.2 908.8 590.5 908.7 590.9 909.0 591.2 908.2 591.5 908.9 591.9 908.5 592.2 908.2 592.5 908.8 592.8 908.2 593.2 908.6 593.5 908.2 593.8 908.5 594.1 909.1 594.5 909.0 594.8 909.2 595.1 909.0 595.5 909.0 595.8 908.7 596.1 909.4 596.4 909.3 596.8 908.9 597.1 909.0 597.4 908.5 597.8 908.9 598.1 909.0"/>
<path class="c" d="M133.0 911.7 133.2 910.9 133.8 911.5 134.5 911.1 134.3 910.9 135.0 911.5 134.8 911.3 135.1 911.1 135.7 911.2 136.1 910.8 136.2 911.7 135.6 911.3 136.6 911.3 137.1 911.3 137.9 911.2 137.5 911.4 138.3 911.4 138.2 911.3 138.3 911.7 138.5 911.6 138.9 911.4 139.8 911.4 139.4 910.9 140.3 911.9 140.6 911.7 140.8 911.4 141.4 911.8 141.7 910.9 141.4 911.0 142.5 911.2 143.2 911.5 142.7 911.1 143.5 911.2 143.7 911.3 144.1 911.4 144.3 911.4 144.4 911.7 144.6 911.2 144.9 911.2 146.0 911.3 145.6 911.3 145.4 911.0 147.1 911.6 148.0 911.5 147.5 911.2 148.2 910.9 148.3 910.8 148.3 911.0 148.1 910.7 148.8 911.0 149.2 911.4 149.1 911.4 149.7 911.6 150.2 911.1 150.6 911.4 150.8 910.8 151.5 911.3 151.3 911.0 150.9 911.0 151.7 911.4 152.3 911.0 152.1 911.1 153.7 911.5 153.6 910.5 153.6 911.0 153.9 911.2 153.5 911.3 155.5 910.7 154.8 911.1 155.2 911.3 155.4 910.8 155.9 910.8 156.2 910.7 156.6 911.6 156.8 911.2 157.7 911.0 157.3 910.7 158.1 911.1 158.1 910.9 158.6 911.6 159.0 911.1 159.2 911.3 159.8 911.6 160.3 911.4 159.8 911.1 161.3 910.9 160.5 911.5 161.6 911.1 161.8 911.0 161.3 910.8 161.8 911.1 162.2 911.1 163.5 911.0 163.0 911.2 163.6 911.3 164.3 911.5 164.5 911.5 164.9 911.0 165.0 910.8 165.8 911.2 165.7 911.6 165.5 910.9 165.4 910.7 166.9 911.4 167.0 911.4 167.7 911.4 168.1 911.2 167.4 910.9 168.4 911.0 169.0 911.4 168.2 911.2 169.3 911.1 169.2 911.1 169.3 911.1 170.4 911.1 170.7 911.7 170.7 911.3 171.0 911.3 171.5 911.0 172.2 911.2 172.0 911.1 171.8 911.0 172.5 911.0 173.3 911.1 174.0 910.9 174.0 911.5 173.7 911.3 174.3 911.4 174.4 910.8 174.3 910.4 175.4 911.2 174.9 911.2 176.2 910.9 175.6 911.4 177.3 911.2 177.6 911.0 177.9 911.4 178.0 911.2 177.2 911.1 178.1 911.1 178.7 911.7 179.5 911.2 179.4 911.8 179.7 911.1 180.2 911.6 180.8 911.6 180.9 911.0 181.3 911.5 181.5 911.8 181.9 911.2 182.2 911.1 181.6 910.8 182.7 910.9 182.0 910.9 183.1 911.5 183.8 911.1 184.8 910.5 184.2 911.0 184.8 911.1 184.5 911.4 184.7 911.4 185.7 910.8 184.9 911.6 186.0 911.1 186.6 910.7 187.0 911.4 187.6 911.8 187.4 911.1 188.1 911.3 188.6 911.2 188.1 911.2 189.2 911.0 189.5 911.0 189.9 910.9 188.9 911.3 190.4 911.5 190.6 911.4 191.0 911.5 191.5 911.7 191.0 911.7 192.7 911.1 191.6 911.1 192.5 910.9 192.4 911.2 193.5 911.1 194.1 910.3 194.3 910.9 194.2 912.2 194.3 911.6 194.1 911.6 195.3 911.4 195.9 911.2 195.4 911.0 195.7 911.4 196.2 910.8 196.0 910.8 197.1 911.0 196.9 911.1 198.1 911.0 198.2 910.9 198.4 911.1 198.8 910.7 199.3 911.5 198.9 911.1 199.8 911.4 200.1 911.4 200.9 910.6 200.8 910.7 200.8 911.4 201.2 911.0 201.5 911.0 201.5 911.1 202.6 910.9 202.3 911.0 203.3 911.1 203.4 911.0 204.0 910.9 204.3 910.9 204.5 911.1 204.4 911.4 205.1 910.7 205.7 910.9 205.7 910.9 205.5 910.9 206.3 910.8 206.3 910.2 207.2 911.0 207.7 910.9 207.8 911.1 208.3 911.0 208.2 910.8 208.4 910.6 208.8 910.6 209.1 911.3 209.7 910.8 210.0 911.0 209.7 910.6 211.0 910.9 210.8 911.3 211.3 911.2 211.6 910.5 211.6 911.0 211.8 911.0 212.1 910.6 212.5 910.6 213.5 910.8 213.4 910.8 213.6 910.3 213.5 910.8 215.0 911.0 215.5 910.9 215.2 910.4 216.0 910.7 216.3 911.0 216.5 911.0 216.5 910.9 216.7 910.6 217.5 910.3 217.9 910.4 217.6 910.1 218.2 910.7 217.9 910.9 218.6 910.6 218.4 910.7 219.1 910.7 219.6 910.6 220.2 910.4 220.0 910.6 220.6 909.9 221.2 910.5 221.3 910.8 222.2 911.0 221.4 910.6 221.8 910.2 223.2 910.6 222.4 910.0 224.0 910.4 223.9 910.5 223.9 910.6 223.6 910.0 224.9 910.3 225.1 910.3 225.5 909.6 225.3 910.6 226.2 910.8 226.6 910.4 225.8 910.5 226.6 909.7 227.0 910.1 227.4 910.2 227.6 909.9 228.6 910.6 229.1 910.1 228.6 910.6 229.2 910.1 229.3 910.2 230.3 910.7 230.9 909.9 230.2 910.1 230.1 910.0 232.0 909.7 231.9 910.2 232.6 910.1 232.0 910.4 232.4 910.4 232.9 910.2 232.9 909.9 234.2 909.9 233.6 910.1 234.4 910.4 234.6 910.3 234.7 909.5 235.2 909.5 235.7 910.2 236.3 910.3 235.8 909.8 236.4 909.5 237.5 909.5 237.2 909.7 237.7 909.5 237.6 909.4 238.0 909.5 238.0 909.7 238.4 909.7 238.1 910.0 239.1 909.3 239.2 909.5 239.6 909.3 241.1 909.6 240.8 909.7 240.9 910.0 241.8 909.1 242.2 910.1 241.9 909.4 242.5 909.4 241.7 909.5 242.8 909.2 243.9 909.0 243.6 909.2 244.3 909.8 243.9 909.6 245.2 908.9 244.6 909.5 245.2 909.0 246.1 909.0 245.6 909.2 245.9 909.2 245.5 909.6 247.4 908.8 247.4 909.7 247.9 908.9 247.9 909.5 248.1 908.6 248.4 909.0 248.8 909.0 249.4 909.8 249.6 909.4 250.8 908.5 250.9 909.3 250.7 909.0 250.9 908.6 251.2 909.0 252.0 909.0 251.9 909.5 252.4 908.6 252.5 908.8 253.1 908.7 253.5 909.3 253.4 908.5 253.7 908.8 254.1 908.4 254.6 908.1 254.8 908.6 255.9 908.2 254.9 908.5 255.9 908.9 256.3 908.0 256.0 908.4 257.0 907.5 258.4 908.6 257.5 908.2 257.3 908.2 258.3 908.4 258.8 907.5 258.8 908.3 258.7 908.5 259.8 908.3 259.9 908.3 260.0 908.5 260.9 908.1 260.4 907.9 261.6 908.0 261.5 907.5 261.4 907.9 262.7 908.4 262.3 907.8 262.8 908.3 263.1 908.2 263.6 908.1 264.1 908.1 264.2 907.7 264.9 908.1 264.7 907.9 265.7 907.5 265.4 907.7 266.0 907.7 266.8 908.1 267.4 906.9 267.3 907.6 266.6 907.3 268.3 907.1 268.5 907.3 268.7 907.2 268.5 907.7 268.7 907.1 269.5 907.0 269.7 906.9 270.1 906.9 270.1 907.0 270.5 907.3 271.0 907.4 271.1 907.5 271.2 906.5 272.7 906.6 272.1 907.5 272.5 906.6 272.9 906.9 273.5 906.8 273.7 906.6 273.8 906.0 274.8 906.1 274.2 906.2 275.1 906.1 275.7 906.6 275.7 906.1 276.2 906.0 276.2 905.7 276.3 905.4 277.4 905.7 276.8 906.4 277.1 905.9 278.2 905.5 278.4 905.7 277.8 906.0 279.2 905.6 279.8 905.3 280.1 904.8 278.9 905.7 280.9 904.6 280.6 905.0 281.4 904.4 281.9 905.1 281.5 905.2 281.9 904.5 282.6 904.5 282.7 903.8 283.3 904.5 283.6 904.3 283.6 904.4 283.0 904.9 284.3 904.6 284.3 904.6 284.2 904.0 285.3 904.3 285.8 902.9 286.2 903.4 285.9 903.3 287.1 903.7 287.0 902.7 287.5 903.9 287.9 902.7 288.2 902.7 288.8 902.1 289.8 901.8 289.4 902.0 289.2 902.2 289.9 902.6 291.2 901.1 290.9 901.2 291.0 901.1 291.9 900.5 291.5 900.7 292.3 900.8 292.5 900.3 292.6 900.3 292.8 900.6 293.2 900.4 294.9 898.5 294.1 900.0 294.8 898.6 294.2 899.6 295.7 898.2 296.2 898.3 295.7 898.6 295.8 898.8 296.6 896.9 296.9 897.4 296.5 897.7 297.6 897.3 297.4 896.7 298.8 896.2 298.4 896.3 298.7 896.8 299.1 895.1 299.2 895.6 300.1 895.4 301.1 892.9 301.2 893.7 301.8 892.8 300.6 894.0 302.1 892.6 302.8 892.1 303.0 892.3 302.9 892.1 303.4 890.7 304.4 890.2 304.6 890.1 304.1 890.5 305.0 889.2 305.5 888.9 305.9 887.8 306.3 887.7 307.1 887.3 306.0 888.4 307.7 886.6 307.3 885.7 307.9 885.0 308.5 884.5 309.1 884.4 309.6 883.3 309.6 883.5 310.1 881.5 311.1 879.6 310.9 880.7 311.1 880.9 312.8 876.4 312.6 877.4 312.5 877.5 313.0 877.5 313.4 875.6 313.2 875.6 314.0 873.9 314.5 873.7 314.8 872.9 315.6 871.6 316.2 869.9 316.0 869.7 316.1 869.4 317.1 867.1 317.5 866.7 318.2 863.9 318.2 864.4 319.2 862.1 319.6 860.8 320.6 857.7 320.2 858.9 320.2 859.8 320.7 856.9 321.9 853.6 321.2 857.3 322.4 850.9 323.5 847.7 322.8 850.9 323.3 849.1 325.1 841.8 324.3 845.8 325.4 842.5 326.3 839.2 326.4 837.5 326.7 838.3 327.2 833.9 327.4 835.6 328.3 830.4 328.4 829.4 329.6 823.1 329.5 825.0 330.3 821.6 331.3 817.1 331.1 815.8 331.0 819.5 332.7 811.4 333.7 805.0 334.1 801.9 333.7 804.4 335.8 793.5 335.1 799.1 336.3 790.6 336.1 791.3 337.1 786.4 338.2 783.1 338.1 780.1 338.5 777.4 339.7 770.9 340.1 766.1 339.9 769.3 341.3 757.2 342.2 757.3 342.7 755.6 342.9 748.1 343.2 748.2 343.9 746.2 344.6 737.7 344.8 737.4 345.9 734.5 346.4 727.0 347.2 718.9 347.9 718.7 347.9 717.0 349.3 708.3 349.3 711.1 349.9 703.5 350.8 700.9 351.1 702.9 351.7 701.3 352.4 690.0 353.4 686.0 353.3 688.2 354.0 682.4 354.8 677.6 355.3 676.1 355.6 673.2 355.9 675.0 357.0 670.8 357.3 667.3 356.8 666.2 357.6 662.8 358.5 661.7 359.4 658.1 359.4 661.0 360.3 655.6 360.4 655.8 361.1 653.3 361.1 652.0 362.0 648.5 362.4 652.7 362.5 647.6 362.9 651.0 363.2 653.1 364.2 647.0 363.9 646.9 365.0 644.9 365.3 644.0 365.4 645.3 365.6 649.9 366.2 644.7 366.2 642.6 367.3 644.1 367.5 647.4 367.6 643.7 368.0 648.7 368.7 647.3 368.5 647.3 369.1 649.8 369.3 650.9 370.2 649.8 370.0 649.6 370.4 653.9 371.1 652.3 371.0 656.2 372.3 659.0 372.4 660.0 373.0 660.8 373.6 665.0 374.0 669.2 375.1 666.2 375.3 671.0 375.2 673.4 376.7 676.7 376.5 674.3 377.4 679.6 378.1 686.2 378.2 685.3 378.8 688.3 379.3 690.8 379.6 694.8 380.7 701.4 380.1 696.9 382.3 713.9 382.4 714.0 383.4 719.2 384.1 724.9 384.1 723.4 385.5 733.2 386.3 737.2 386.1 737.8 386.9 742.5 387.7 747.2 387.8 748.2 389.6 760.3 388.3 749.8 390.2 763.2 390.8 770.5 391.2 772.7 391.7 775.9 392.9 785.0 392.9 781.6 393.5 787.3 393.8 789.0 395.2 797.4 395.6 800.1 395.2 797.7 396.8 807.3 396.5 803.2 397.6 810.3 398.5 813.8 398.6 813.6 399.8 821.2 399.8 821.3 400.5 823.6 401.2 826.9 401.7 831.2 402.1 830.2 402.8 835.1 403.4 837.9 403.5 838.0 404.5 840.0 404.7 841.2 404.8 845.1 405.2 845.3 405.9 847.6 406.2 847.8 407.0 851.9 407.5 852.6 408.0 853.9 408.3 855.6 409.3 859.0 409.2 857.5 409.9 860.7 410.4 861.9 409.8 861.1 410.9 863.5 411.2 865.8 411.8 866.4 411.9 866.8 412.6 868.6 412.8 869.0 413.7 871.2 413.9 872.7 414.3 872.0 414.9 873.3 415.0 874.5 416.0 875.6 416.2 876.3 416.2 876.0 416.8 877.6 417.7 879.5 417.4 879.5 418.3 880.3 418.6 881.4 418.7 881.8 419.4 881.9 420.2 883.5 420.1 883.6 419.9 883.0 421.3 886.3 421.7 887.0 421.6 886.1 422.1 886.5 423.0 887.9 422.4 887.4 424.3 889.7 423.5 889.4 424.0 888.8 424.8 889.5 425.1 890.4 425.0 889.6 425.7 891.1 426.8 892.4 427.0 893.4 427.1 893.0 427.5 893.2 427.7 893.9 428.2 894.1 428.0 894.1 428.0 893.9 428.6 894.6 429.3 896.0 429.0 894.8 430.1 896.8 430.3 896.3 430.8 897.3 430.8 897.0 431.0 897.0 431.9 897.1 433.1 898.9 432.6 898.2 432.9 898.2 433.8 899.3 433.7 899.4 434.4 899.0 434.5 899.7 434.8 899.8 435.1 899.4 435.9 900.1 435.4 900.0 436.8 901.2 436.6 899.8 436.3 900.8 437.6 901.0 437.3 900.7 438.1 901.5 438.3 901.4 438.7 902.2 438.5 901.7 439.5 901.7 439.1 902.4 440.1 902.0 440.2 902.5 440.8 903.0 441.0 903.1 441.5 903.9 442.0 903.1 442.1 903.5 442.5 903.0 442.6 904.1 443.0 903.7 443.4 903.7 443.4 904.2 444.2 903.9 444.2 904.5 444.9 904.3 445.7 904.8 445.6 904.3 445.9 904.6 445.9 904.4 446.4 904.7 446.3 904.8 447.1 904.8 447.3 905.1 448.2 905.3 448.5 904.9 448.5 905.1 448.7 905.4 449.5 905.6 450.0 905.3 449.9 906.4 450.0 906.3 449.9 905.6 450.6 905.5 451.3 906.0 451.5 906.3 452.0 906.4 452.9 906.1 453.2 906.2 453.3 906.5 452.8 905.8 453.9 905.7 454.8 906.4 455.1 906.4 454.2 906.2 454.8 906.0 455.5 906.7 455.4 906.7 456.0 906.8 456.2 906.5 456.6 907.0 457.5 907.3 458.1 906.5 458.1 907.4 457.9 907.3 458.3 906.8 459.4 907.2 459.1 907.0 459.1 907.5 459.6 907.1 460.0 907.0 460.3 907.0 460.1 907.7 460.7 907.5 461.4 907.3 461.9 907.5 461.7 907.7 462.8 907.3 462.5 907.6 462.5 908.2 463.0 907.4 464.2 907.9 464.3 908.0 464.4 908.0 464.8 907.6 465.0 907.6 465.4 907.9 465.6 908.2 464.9 907.2 465.8 908.1 466.7 908.1 466.9 907.9 467.7 908.5 467.9 908.4 468.4 908.0 468.8 908.8 468.7 908.2 469.3 908.4 469.2 908.3 470.2 908.4 469.2 908.4 470.0 908.1 470.5 908.2 470.9 908.8 470.9 908.8 471.2 908.2 471.6 908.4 472.8 908.8 472.5 908.3 473.1 908.7 473.0 908.4 473.4 908.5 473.8 908.5 473.9 908.9 474.5 908.0 475.8 908.9 475.1 908.2 475.5 908.9 475.2 908.3 476.1 908.8 477.0 908.6 477.5 909.2 477.5 908.9 477.7 908.3 477.0 908.6 478.1 909.2 478.6 909.0 479.7 909.2 479.0 909.1 479.6 908.9 479.7 909.0 480.4 909.4 480.8 909.3 480.4 909.0 481.4 909.1 481.3 909.3 482.3 909.6 482.2 908.8 482.4 909.4 482.8 909.3 483.7 909.3 483.0 909.0 484.4 908.8 483.6 908.9 484.7 909.5 484.9 909.1 484.1 909.5 485.3 909.3 486.1 910.0 486.9 909.8 486.3 909.2 486.8 908.9 487.4 909.7 487.4 909.6 488.3 909.5 488.1 909.3 489.2 909.0 489.0 910.2 489.0 909.5 490.0 909.2 489.5 909.6 490.8 910.1 490.7 909.2 490.8 909.6 491.3 909.3 491.0 909.7 491.8 910.0 492.2 910.3 492.4 909.8 492.6 909.6 493.1 909.9 493.4 909.9 493.8 909.9 493.8 909.6 494.6 910.1 494.8 909.1 495.0 910.1 495.4 910.2 495.1 909.8 495.8 909.4 496.6 910.0 496.0 910.8 496.7 910.4 497.2 910.4 497.3 909.8 499.0 909.7 498.0 910.1 498.8 909.7 499.1 910.5 499.1 909.9 500.2 909.7 500.6 910.1 500.7 910.7 500.9 910.2 501.7 910.3 500.7 910.9 502.2 910.0 501.6 909.9 502.6 910.4 502.6 910.5 503.4 910.3 503.7 910.0 503.4 910.5 504.3 910.2 504.6 910.8 504.9 910.7 505.1 910.7 505.7 910.5 506.1 910.9 505.6 910.7 506.3 910.2 507.0 910.9 506.7 910.8 507.0 910.1 507.7 910.5 507.0 910.8 508.5 910.6 508.2 910.7 509.0 911.0 509.1 910.7 509.4 910.4 509.6 910.6 511.0 910.6 510.1 910.6 510.9 910.6 511.2 910.2 512.0 911.1 512.5 911.2 511.8 910.8 513.0 910.3 512.4 910.5 513.2 910.5 513.9 910.7 514.2 910.6 514.7 910.9 514.4 910.7 515.3 910.6 516.5 910.8 515.4 910.4 515.9 910.4 516.0 911.5 516.5 911.2 516.9 911.1 517.2 910.8 517.7 910.7 516.9 910.7 518.3 911.5 518.5 910.8 518.4 911.0 518.5 911.3 519.3 911.3 520.4 910.8 520.8 910.8 520.3 910.7 520.0 910.5 520.8 910.5 521.6 911.0 521.6 911.0 522.3 910.8 523.1 911.0 523.6 911.0 523.0 911.0 523.1 911.2 522.7 911.5 524.2 910.8 523.7 911.1 525.0 910.5 524.9 911.0 525.7 911.0 526.0 910.7 526.0 911.3 526.2 910.6 526.5 911.4 526.7 911.5 527.8 910.4 527.7 911.4 528.3 910.9 527.9 911.3 528.8 910.6 529.8 910.9 529.3 910.4 529.4 911.2 530.0 910.9 530.6 911.0 530.4 911.1 530.6 910.7 531.5 911.6 531.9 911.0 531.7 910.9 532.7 911.2 532.4 911.3 532.4 910.6 532.9 911.6 533.4 911.2 534.1 911.2 534.3 910.8 534.1 911.4 534.2 911.1 535.4 911.0 535.3 910.7 535.5 911.1 536.1 911.4 536.6 911.3 537.5 911.1 537.6 910.7 537.1 911.3 538.4 911.0 538.7 911.1 538.1 910.8 539.2 911.0 539.0 911.1 539.7 911.1 539.7 911.2 540.3 911.1 539.6 911.5 540.9 910.9 541.3 911.0 541.7 910.8 540.9 911.3 542.0 911.3 542.8 911.3 543.2 911.9 542.3 911.1 543.4 911.3 543.2 911.6 544.1 911.2 543.9 911.2 544.8 911.2 544.8 910.9 545.0 911.2 545.9 910.7 546.3 911.3 546.0 911.3 547.0 910.4 546.2 912.1 547.7 911.4 547.4 911.6 548.1 911.2 547.5 911.3 548.5 911.1 548.5 910.9 549.5 911.2 549.6 911.0 550.1 910.9 550.5 911.5 550.4 910.5 550.7 911.2 551.3 911.4 551.5 911.3 551.3 911.4 552.2 910.9 552.4 911.7 552.9 911.5 553.6 911.3 553.4 911.1 553.8 911.5 554.3 911.9 554.4 910.9 554.7 911.8 555.5 911.3 555.5 910.8 556.1 911.8 556.1 910.9 556.2 911.3 557.2 911.1 557.1 910.8 557.3 910.9 558.0 911.3 558.1 911.1 557.9 911.6 559.4 911.9 559.2 911.1 559.0 911.6 560.2 911.5 560.3 910.9 559.8 911.4 561.3 911.8 561.6 911.4 561.2 911.5 561.6 911.5 562.3 911.4 562.0 911.3 562.1 911.3 563.0 910.9 562.8 911.4 563.2 911.5 564.4 911.0 563.6 911.2 564.5 911.4 565.0 911.1 565.4 911.0 565.5 911.5 566.3 911.5 566.5 911.6 567.0 911.4 566.6 910.7 567.0 911.5 567.8 911.4 568.1 910.8 568.4 911.5 569.1 911.2 569.4 911.5 569.6 911.2 569.9 911.2 569.8 911.4 569.9 911.5 571.8 910.9 571.0 910.9 571.2 910.8 571.6 911.1 572.6 911.9 572.4 910.6 573.5 910.9 573.0 911.1 573.1 911.6 572.9 911.1 574.5 911.3 574.4 910.7 575.1 911.3 573.9 911.9 574.3 910.9 575.6 911.7 575.5 911.2 576.3 911.5 576.7 911.1 576.8 911.3 577.7 911.0 577.3 911.2 578.1 911.0 578.2 911.3 578.5 911.2 579.1 911.3 578.7 911.1 579.2 911.1 579.3 911.2 579.7 911.3 580.6 910.9 580.9 911.2 580.8 910.9 582.2 910.9 581.6 911.6 581.7 911.3 583.2 911.1 581.8 911.3 582.8 911.1 582.8 911.9 583.9 910.9 584.5 911.1 584.0 911.1 585.0 911.4 584.4 911.0 585.5 911.3 586.3 910.6 585.8 911.7 587.3 911.3 586.4 911.3 586.8 911.5 587.0 911.5 587.1 911.1 587.9 911.5 588.3 911.3 589.1 911.0 588.7 910.6 588.7 911.0 589.5 910.8 589.6 911.5 590.3 911.4 590.2 911.2 590.5 912.0 591.4 911.6 591.8 911.2 592.1 911.1 592.9 911.4 592.4 911.3 592.9 910.8 593.3 911.7 592.8 911.6 593.7 911.2 594.1 911.0 595.1 911.6 594.6 911.4 595.3 911.4 595.8 911.4 595.7 910.9 596.4 911.6 596.5 911.3 597.2 911.3 597.7 911.3 597.0 911.2 598.4 911.6 598.1 910.0"/>
<path class="g" d="M130.8 910 135.04 910 140.6 910 146.17 910 151.73 910 157.29 910 162.85 910 168.42 910 173.98 910 179.54 909.99 185.11 909.99 190.67 909.99 196.23 909.98 201.79 909.98 207.36 909.97 212.92 909.95 218.48 909.93 224.05 909.9 229.61 909.86 235.17 909.8 240.73 909.71 246.3 909.59 251.86 909.4 257.42 909.14 262.99 908.76 268.55 908.22 274.11 907.44 279.68 906.32 285.24 904.72 290.8 902.42 296.36 899.15 301.93 894.5 307.49 887.96 313.05 878.83 318.62 866.26 324.18 849.29 329.74 827.03 335.3 798.95 340.87 765.47 346.43 728.59 351.99 692.41 357.56 662.84 363.12 646.03 368.68 646.03 374.24 662.84 379.81 692.41 385.37 728.59 390.93 765.47 396.5 798.95 402.06 827.03 407.62 849.29 413.18 866.26 418.75 878.83 424.31 887.96 429.87 894.5 435.44 899.15 441 902.42 446.56 904.72 452.12 906.32 457.69 907.44 463.25 908.22 468.81 908.76 474.38 909.14 479.94 909.4 485.5 909.59 491.07 909.71 496.63 909.8 502.19 909.86 507.75 909.9 513.32 909.93 518.88 909.95 524.44 909.97 530.01 909.98 535.57 909.98 541.13 909.99 546.69 909.99 552.26 909.99 557.82 910 563.38 910 568.95 910 574.51 910 580.07 910 585.63 910 591.2 910 596.76 910 598.08 910"/>
<path class="ax" d="M101 539.8H630.8V928.4H101Z"/>
<path class="tk" d="M101 928.4v9M233.45 928.4v9M365.9 928.4v9M498.35 928.4v9M630.8 928.4v9M167.22 928.4v5M299.67 928.4v5M432.12 928.4v5M564.57 928.4v5M101 910h-9M101 835.96h-9M101 761.92h-9M101 687.88h-9M101 613.84h-9M101 539.8h-9M101 872.98h-5M101 798.94h-5M101 724.9h-5M101 650.86h-5M101 576.82h-5"/>
<text class="t" x="100.5" y="966.9" text-anchor="middle">−2</text>
<text class="t" x="232.95" y="966.9" text-anchor="middle">−1</text>
<text class="t" x="365.4" y="966.9" text-anchor="middle">0</text>
<text class="t" x="497.85" y="966.9" text-anchor="middle">1</text>
<text class="t" x="630.3" y="966.9" text-anchor="middle">2</text>
<text class="t" x="80.6" y="918.8" text-anchor="end">0</text>
<text class="t" x="80.6" y="844.76" text-anchor="end">20</text>
<text class="t" x="80.6" y="770.72" text-anchor="end">40</text>
<text class="t" x="80.6" y="696.68" text-anchor="end">60</text>
<text class="t" x="80.6" y="622.64" text-anchor="end">80</text>
<text class="t" x="80.6" y="548.6" text-anchor="end">100</text>
<text class="L" x="-0.8" y="546.4">b</text>
<text class="t" x="274.7" y="1004.5">Detuning (GHz)</text>
<text class="t" transform="translate(18.7 834.1) rotate(-90)">Transmission (%)</text>
<path class="ax" d="M802.6 10.8H1332.9V399.3H802.6Z"/>
<path class="tk" d="M802.6 399.3v9M935.18 399.3v9M1067.75 399.3v9M1200.33 399.3v9M1332.9 399.3v9M868.89 399.3v5M1001.46 399.3v5M1134.04 399.3v5M1266.61 399.3v5M802.6 399.3h-9M802.6 302.12h-9M802.6 204.95h-9M802.6 107.78h-9M802.6 10.6h-9M802.6 350.71h-5M802.6 253.54h-5M802.6 156.36h-5M802.6 59.19h-5"/>
<text class="t" x="802.1" y="437.7" text-anchor="middle">2</text>
<text class="t" x="934.68" y="437.7" text-anchor="middle">3</text>
<text class="t" x="1067.25" y="437.7" text-anchor="middle">4</text>
<text class="t" x="1199.83" y="437.7" text-anchor="middle">5</text>
<text class="t" x="1332.4" y="437.7" text-anchor="middle">6</text>
<text class="t" x="782.2" y="408.1" text-anchor="end">0</text>
<text class="t" x="782.2" y="310.93" text-anchor="end">2000</text>
<text class="t" x="782.2" y="213.75" text-anchor="end">4000</text>
<text class="t" x="782.2" y="116.58" text-anchor="end">6000</text>
<text class="t" x="782.2" y="19.4" text-anchor="end">8000</text>
<text class="L" x="689.3" y="23">c</text>
<g class="b"><rect x="898.8" y="372.4" width="4.9" height="27.5"/><rect x="916.3" y="366.6" width="4.9" height="33.3"/><rect x="931.4" y="362.4" width="4.9" height="37.4"/><rect x="943.4" y="358.2" width="4.9" height="41.6"/><rect x="953.9" y="351.1" width="4.9" height="48.7"/><rect x="964.2" y="340.8" width="4.9" height="59.1"/><rect x="972.8" y="333.8" width="4.9" height="66.1"/><rect x="981.4" y="321.6" width="4.9" height="78.2"/><rect x="988.3" y="313.2" width="4.9" height="86.6"/><rect x="994.9" y="304.6" width="4.9" height="95.2"/><rect x="1000.2" y="299.2" width="4.9" height="100.6"/><rect x="1005.4" y="276.2" width="4.9" height="123.6"/><rect x="1010.5" y="261.1" width="4.9" height="138.8"/><rect x="1015.6" y="248.8" width="4.9" height="151.1"/><rect x="1020.8" y="223.3" width="4.9" height="176.5"/><rect x="1026.0" y="199.9" width="4.9" height="199.9"/><rect x="1031.2" y="170.7" width="4.9" height="229.2"/><rect x="1036.5" y="159.2" width="4.9" height="240.6"/><rect x="1041.6" y="121.5" width="4.9" height="278.4"/><rect x="1046.8" y="95.8" width="4.9" height="304.0"/><rect x="1051.8" y="70.8" width="4.9" height="329.0"/><rect x="1056.0" y="60.5" width="4.9" height="339.4"/><rect x="1060.0" y="49.8" width="4.9" height="350.1"/><rect x="1065.3" y="40.2" width="4.9" height="359.6"/><rect x="1070.2" y="51.8" width="4.9" height="348.1"/><rect x="1075.8" y="57.8" width="4.9" height="342.1"/><rect x="1080.8" y="69.8" width="4.9" height="330.1"/><rect x="1085.8" y="96.0" width="4.9" height="303.8"/><rect x="1090.6" y="129.6" width="4.9" height="270.3"/><rect x="1095.8" y="141.7" width="4.9" height="258.2"/><rect x="1100.5" y="175.1" width="4.9" height="224.8"/><rect x="1106.0" y="202.2" width="4.9" height="197.7"/><rect x="1111.2" y="216.2" width="4.9" height="183.6"/><rect x="1116.6" y="237.2" width="4.9" height="162.6"/><rect x="1122.0" y="261.1" width="4.9" height="138.7"/><rect x="1127.1" y="278.6" width="4.9" height="121.3"/><rect x="1132.5" y="296.6" width="4.9" height="103.3"/><rect x="1137.6" y="310.1" width="4.9" height="89.8"/><rect x="1142.6" y="319.6" width="4.9" height="80.3"/><rect x="1149.2" y="335.6" width="4.9" height="64.2"/><rect x="1157.6" y="350.4" width="4.9" height="49.5"/><rect x="1168.1" y="362.6" width="4.9" height="37.2"/><rect x="1178.5" y="370.9" width="4.9" height="29.0"/><rect x="1190.5" y="375.6" width="4.9" height="24.3"/><rect x="1206.1" y="379.1" width="4.9" height="20.7"/><rect x="1223.1" y="388.1" width="4.9" height="11.7"/></g>
<path class="bl" d="M900.04 363.19 901.14 363.19 902.23 363.18 903.32 363.18 904.41 363.18 905.51 363.18 906.6 363.17 907.69 363.17 908.79 363.17 909.88 363.16 910.97 363.16 912.07 363.15 913.16 363.15 914.25 363.14 915.34 363.13 916.44 363.12 917.53 363.11 918.62 363.1 919.72 363.09 920.81 363.08 921.9 363.06 922.99 363.04 924.09 363.02 925.18 363 926.27 362.98 927.37 362.95 928.46 362.93 929.55 362.89 930.65 362.86 931.74 362.82 932.83 362.78 933.92 362.73 935.02 362.68 936.11 362.62 937.2 362.56 938.3 362.49 939.39 362.42 940.48 362.33 941.58 362.24 942.67 362.14 943.76 362.03 944.85 361.91 945.95 361.78 947.04 361.64 948.13 361.49 949.23 361.32 950.32 361.13 951.41 360.94 952.51 360.72 953.6 360.48 954.69 360.23 955.78 359.95 956.88 359.66 957.97 359.33 959.06 358.99 960.16 358.61 961.25 358.21 962.34 357.77 963.43 357.31 964.53 356.8 965.62 356.26 966.71 355.68 967.81 355.06 968.9 354.4 969.99 353.69 971.09 352.93 972.18 352.12 973.27 351.26 974.36 350.34 975.46 349.36 976.55 348.32 977.64 347.21 978.74 346.04 979.83 344.8 980.92 343.48 982.02 342.09 983.11 340.62 984.2 339.07 985.29 337.43 986.39 335.71 987.48 333.9 988.57 331.99 989.67 329.99 990.76 327.88 991.85 325.68 992.94 323.37 994.04 320.96 995.13 318.44 996.22 315.81 997.32 313.07 998.41 310.22 999.5 307.25 1000.6 304.17 1001.69 300.97 1002.78 297.65 1003.87 294.21 1004.97 290.65 1006.06 286.98 1007.15 283.19 1008.25 279.28 1009.34 275.26 1010.43 271.12 1011.53 266.87 1012.62 262.51 1013.71 258.05 1014.8 253.48 1015.9 248.8 1016.99 244.03 1018.08 239.17 1019.18 234.22 1020.27 229.19 1021.36 224.08 1022.46 218.9 1023.55 213.65 1024.64 208.34 1025.73 202.99 1026.83 197.59 1027.92 192.15 1029.01 186.68 1030.11 181.2 1031.2 175.71 1032.29 170.22 1033.38 164.73 1034.48 159.26 1035.57 153.83 1036.66 148.43 1037.76 143.08 1038.85 137.79 1039.94 132.56 1041.04 127.42 1042.13 122.38 1043.22 117.43 1044.31 112.59 1045.41 107.88 1046.5 103.31 1047.59 98.87 1048.69 94.59 1049.78 90.48 1050.87 86.54 1051.97 82.78 1053.06 79.21 1054.15 75.84 1055.24 72.68 1056.34 69.74 1057.43 67.02 1058.52 64.53 1059.62 62.28 1060.71 60.27 1061.8 58.51 1062.89 56.99 1063.99 55.74 1065.08 54.74 1066.17 54 1067.27 53.53 1068.36 53.32 1069.45 53.37 1070.55 53.69 1071.64 54.28 1072.73 55.12 1073.82 56.23 1074.92 57.59 1076.01 59.21 1077.1 61.08 1078.2 63.19 1079.29 65.54 1080.38 68.13 1081.48 70.94 1082.57 73.98 1083.66 77.22 1084.75 80.67 1085.85 84.32 1086.94 88.16 1088.03 92.17 1089.13 96.36 1090.22 100.7 1091.31 105.2 1092.4 109.83 1093.5 114.6 1094.59 119.48 1095.68 124.47 1096.78 129.56 1097.87 134.73 1098.96 139.99 1100.06 145.3 1101.15 150.68 1102.24 156.09 1103.33 161.54 1104.43 167.02 1105.52 172.51 1106.61 178 1107.71 183.49 1108.8 188.97 1109.89 194.42 1110.99 199.84 1112.08 205.23 1113.17 210.56 1114.26 215.85 1115.36 221.07 1116.45 226.22 1117.54 231.3 1118.64 236.3 1119.73 241.21 1120.82 246.04 1121.92 250.77 1123.01 255.4 1124.1 259.92 1125.19 264.35 1126.29 268.66 1127.38 272.86 1128.47 276.95 1129.57 280.93 1130.66 284.79 1131.75 288.53 1132.84 292.15 1133.94 295.66 1135.03 299.05 1136.12 302.32 1137.22 305.47 1138.31 308.5 1139.4 311.43 1140.5 314.23 1141.59 316.93 1142.68 319.51 1143.77 321.98 1144.87 324.35 1145.96 326.61 1147.05 328.77 1148.15 330.83 1149.24 332.8 1150.33 334.66 1151.43 336.44 1152.52 338.13 1153.61 339.73 1154.7 341.25 1155.8 342.68 1156.89 344.04 1157.98 345.33 1159.08 346.54 1160.17 347.68 1161.26 348.76 1162.35 349.78 1163.45 350.73 1164.54 351.62 1165.63 352.47 1166.73 353.25 1167.82 353.99 1168.91 354.68 1170.01 355.33 1171.1 355.93 1172.19 356.49 1173.28 357.02 1174.38 357.5 1175.47 357.96 1176.56 358.38 1177.66 358.77 1178.75 359.14 1179.84 359.47 1180.94 359.78 1182.03 360.07 1183.12 360.34 1184.21 360.58 1185.31 360.81 1186.4 361.02 1187.49 361.21 1188.59 361.39 1189.68 361.55 1190.77 361.7 1191.87 361.84 1192.96 361.96 1194.05 362.08 1195.14 362.18 1196.24 362.28 1197.33 362.37 1198.42 362.45 1199.52 362.52 1200.61 362.59 1201.7 362.65 1202.79 362.7 1203.89 362.75 1204.98 362.8 1206.07 362.84 1207.17 362.87 1208.26 362.91 1209.35 362.94 1210.45 362.97 1211.54 362.99 1212.63 363.01 1213.72 363.03 1214.82 363.05 1215.91 363.07 1217 363.08 1218.1 363.09 1219.19 363.11 1220.28 363.12 1221.38 363.13 1222.47 363.13 1223.56 363.14 1224.65 363.15 1225.75 363.15 1226.84 363.16"/>
<text class="t" x="1017.7" y="473.6"><tspan font-size="23">Δ</tspan><tspan font-size="16" x="1033.3" dy="8.9">R</tspan><tspan x="1049.7" dy="-8.9">(GHz)</tspan></text>
<text class="t" transform="translate(708.8 324.8) rotate(-90)" textLength="238.75" lengthAdjust="spacing">Photon counts in 10 s</text>
<path class="ax" d="M802.6 540.2H1332.9V929.1H802.6Z"/>
<path class="tk" d="M802.6 929.1v9M935.18 929.1v9M1067.75 929.1v9M1200.33 929.1v9M1332.9 929.1v9M868.89 929.1v5M1001.46 929.1v5M1134.04 929.1v5M1266.61 929.1v5M802.6 928.9h-9M802.6 873.37h-9M802.6 817.84h-9M802.6 762.31h-9M802.6 706.79h-9M802.6 651.26h-9M802.6 595.73h-9M802.6 540.2h-9M802.6 901.14h-5M802.6 845.61h-5M802.6 790.08h-5M802.6 734.55h-5M802.6 679.02h-5M802.6 623.49h-5M802.6 567.96h-5"/>
<text class="t" x="802.1" y="967.3" text-anchor="middle">2</text>
<text class="t" x="934.68" y="967.3" text-anchor="middle">3</text>
<text class="t" x="1067.25" y="967.3" text-anchor="middle">4</text>
<text class="t" x="1199.83" y="967.3" text-anchor="middle">5</text>
<text class="t" x="1332.4" y="967.3" text-anchor="middle">6</text>
<text class="t" x="782.2" y="937.7" text-anchor="end">0</text>
<text class="t" x="782.2" y="882.17" text-anchor="end">500</text>
<text class="t" x="782.2" y="826.64" text-anchor="end">1000</text>
<text class="t" x="782.2" y="771.11" text-anchor="end">1500</text>
<text class="t" x="782.2" y="715.59" text-anchor="end">2000</text>
<text class="t" x="782.2" y="660.06" text-anchor="end">2500</text>
<text class="t" x="782.2" y="604.53" text-anchor="end">3000</text>
<text class="t" x="782.2" y="549" text-anchor="end">3500</text>
<text class="L" x="688" y="546.4">d</text>
<g class="b"><rect x="898.8" y="889.8" width="4.9" height="39.9"/><rect x="916.3" y="889.0" width="4.9" height="40.7"/><rect x="931.4" y="888.6" width="4.9" height="41.0"/><rect x="943.4" y="873.0" width="4.9" height="56.7"/><rect x="953.9" y="869.2" width="4.9" height="60.4"/><rect x="964.2" y="859.0" width="4.9" height="70.6"/><rect x="972.8" y="849.5" width="4.9" height="80.1"/><rect x="981.4" y="839.0" width="4.9" height="90.6"/><rect x="988.3" y="821.5" width="4.9" height="108.1"/><rect x="994.9" y="819.2" width="4.9" height="110.4"/><rect x="1000.2" y="803.8" width="4.9" height="125.9"/><rect x="1005.4" y="780.5" width="4.9" height="149.1"/><rect x="1010.5" y="766.2" width="4.9" height="163.4"/><rect x="1015.6" y="746.2" width="4.9" height="183.4"/><rect x="1020.8" y="737.6" width="4.9" height="192.0"/><rect x="1026.0" y="709.5" width="4.9" height="220.2"/><rect x="1031.2" y="683.5" width="4.9" height="246.2"/><rect x="1036.5" y="692.5" width="4.9" height="237.1"/><rect x="1041.6" y="654.1" width="4.9" height="275.5"/><rect x="1046.8" y="635.8" width="4.9" height="293.9"/><rect x="1051.8" y="614.5" width="4.9" height="315.1"/><rect x="1056.0" y="620.2" width="4.9" height="309.4"/><rect x="1060.0" y="614.5" width="4.9" height="315.1"/><rect x="1065.3" y="617.5" width="4.9" height="312.1"/><rect x="1070.2" y="644.5" width="4.9" height="285.2"/><rect x="1075.8" y="647.6" width="4.9" height="282.0"/><rect x="1080.8" y="668.2" width="4.9" height="261.4"/><rect x="1085.8" y="683.5" width="4.9" height="246.2"/><rect x="1090.6" y="719.6" width="4.9" height="210.0"/><rect x="1095.8" y="730.0" width="4.9" height="199.6"/><rect x="1100.5" y="760.9" width="4.9" height="168.8"/><rect x="1106.0" y="776.6" width="4.9" height="153.0"/><rect x="1111.2" y="792.9" width="4.9" height="136.8"/><rect x="1116.6" y="808.6" width="4.9" height="121.0"/><rect x="1122.0" y="817.8" width="4.9" height="111.9"/><rect x="1127.1" y="837.8" width="4.9" height="91.9"/><rect x="1132.5" y="841.8" width="4.9" height="87.9"/><rect x="1137.6" y="857.5" width="4.9" height="72.2"/><rect x="1142.6" y="863.8" width="4.9" height="65.9"/><rect x="1149.2" y="874.9" width="4.9" height="54.8"/><rect x="1157.6" y="884.2" width="4.9" height="45.4"/><rect x="1168.1" y="891.4" width="4.9" height="38.3"/><rect x="1178.5" y="894.0" width="4.9" height="35.6"/><rect x="1190.5" y="900.4" width="4.9" height="29.3"/><rect x="1206.1" y="907.5" width="4.9" height="22.1"/><rect x="1223.1" y="907.5" width="4.9" height="22.1"/></g>
<path class="bl" d="M900.04 888.87 901.14 888.86 902.23 888.85 903.32 888.85 904.41 888.84 905.51 888.83 906.6 888.82 907.69 888.81 908.79 888.79 909.88 888.78 910.97 888.76 912.07 888.74 913.16 888.72 914.25 888.7 915.34 888.68 916.44 888.65 917.53 888.62 918.62 888.59 919.72 888.55 920.81 888.51 921.9 888.47 922.99 888.42 924.09 888.37 925.18 888.31 926.27 888.25 927.37 888.18 928.46 888.11 929.55 888.03 930.65 887.94 931.74 887.84 932.83 887.74 933.92 887.62 935.02 887.5 936.11 887.36 937.2 887.21 938.3 887.05 939.39 886.88 940.48 886.7 941.58 886.49 942.67 886.28 943.76 886.04 944.85 885.79 945.95 885.51 947.04 885.22 948.13 884.9 949.23 884.56 950.32 884.2 951.41 883.81 952.51 883.39 953.6 882.94 954.69 882.46 955.78 881.95 956.88 881.4 957.97 880.81 959.06 880.19 960.16 879.53 961.25 878.82 962.34 878.07 963.43 877.27 964.53 876.43 965.62 875.53 966.71 874.58 967.81 873.58 968.9 872.52 969.99 871.4 971.09 870.22 972.18 868.97 973.27 867.66 974.36 866.28 975.46 864.83 976.55 863.3 977.64 861.71 978.74 860.03 979.83 858.28 980.92 856.45 982.02 854.53 983.11 852.53 984.2 850.45 985.29 848.27 986.39 846.01 987.48 843.66 988.57 841.22 989.67 838.69 990.76 836.06 991.85 833.34 992.94 830.53 994.04 827.63 995.13 824.63 996.22 821.54 997.32 818.36 998.41 815.08 999.5 811.72 1000.6 808.26 1001.69 804.72 1002.78 801.1 1003.87 797.39 1004.97 793.59 1006.06 789.73 1007.15 785.78 1008.25 781.77 1009.34 777.69 1010.43 773.54 1011.53 769.33 1012.62 765.08 1013.71 760.77 1014.8 756.41 1015.9 752.02 1016.99 747.6 1018.08 743.14 1019.18 738.67 1020.27 734.19 1021.36 729.69 1022.46 725.2 1023.55 720.72 1024.64 716.25 1025.73 711.8 1026.83 707.38 1027.92 703 1029.01 698.67 1030.11 694.39 1031.2 690.17 1032.29 686.02 1033.38 681.95 1034.48 677.97 1035.57 674.08 1036.66 670.3 1037.76 666.63 1038.85 663.07 1039.94 659.64 1041.04 656.34 1042.13 653.19 1043.22 650.18 1044.31 647.33 1045.41 644.63 1046.5 642.11 1047.59 639.75 1048.69 637.58 1049.78 635.59 1050.87 633.78 1051.97 632.17 1053.06 630.75 1054.15 629.53 1055.24 628.51 1056.34 627.7 1057.43 627.1 1058.52 626.7 1059.62 626.51 1060.71 626.53 1061.8 626.76 1062.89 627.19 1063.99 627.84 1065.08 628.69 1066.17 629.74 1067.27 631 1068.36 632.45 1069.45 634.1 1070.55 635.94 1071.64 637.97 1072.73 640.18 1073.82 642.57 1074.92 645.12 1076.01 647.85 1077.1 650.73 1078.2 653.77 1079.29 656.95 1080.38 660.27 1081.48 663.72 1082.57 667.3 1083.66 671 1084.75 674.8 1085.85 678.71 1086.94 682.7 1088.03 686.79 1089.13 690.95 1090.22 695.18 1091.31 699.47 1092.4 703.81 1093.5 708.2 1094.59 712.62 1095.68 717.08 1096.78 721.55 1097.87 726.04 1098.96 730.53 1100.06 735.02 1101.15 739.51 1102.24 743.98 1103.33 748.42 1104.43 752.84 1105.52 757.23 1106.61 761.57 1107.71 765.87 1108.8 770.12 1109.89 774.32 1110.99 778.45 1112.08 782.52 1113.17 786.52 1114.26 790.45 1115.36 794.31 1116.45 798.08 1117.54 801.78 1118.64 805.39 1119.73 808.91 1120.82 812.35 1121.92 815.7 1123.01 818.96 1124.1 822.12 1125.19 825.2 1126.29 828.18 1127.38 831.06 1128.47 833.86 1129.57 836.56 1130.66 839.17 1131.75 841.68 1132.84 844.11 1133.94 846.44 1135.03 848.68 1136.12 850.84 1137.22 852.91 1138.31 854.89 1139.4 856.79 1140.5 858.61 1141.59 860.35 1142.68 862.01 1143.77 863.59 1144.87 865.1 1145.96 866.54 1147.05 867.91 1148.15 869.21 1149.24 870.44 1150.33 871.61 1151.43 872.72 1152.52 873.77 1153.61 874.76 1154.7 875.7 1155.8 876.59 1156.89 877.43 1157.98 878.21 1159.08 878.96 1160.17 879.65 1161.26 880.31 1162.35 880.93 1163.45 881.5 1164.54 882.04 1165.63 882.55 1166.73 883.03 1167.82 883.47 1168.91 883.88 1170.01 884.27 1171.1 884.63 1172.19 884.96 1173.28 885.28 1174.38 885.57 1175.47 885.84 1176.56 886.09 1177.66 886.32 1178.75 886.53 1179.84 886.73 1180.94 886.92 1182.03 887.09 1183.12 887.24 1184.21 887.39 1185.31 887.52 1186.4 887.64 1187.49 887.76 1188.59 887.86 1189.68 887.95 1190.77 888.04 1191.87 888.12 1192.96 888.2 1194.05 888.26 1195.14 888.32 1196.24 888.38 1197.33 888.43 1198.42 888.48 1199.52 888.52 1200.61 888.56 1201.7 888.59 1202.79 888.63 1203.89 888.66 1204.98 888.68 1206.07 888.71 1207.17 888.73 1208.26 888.75 1209.35 888.76 1210.45 888.78 1211.54 888.8 1212.63 888.81 1213.72 888.82 1214.82 888.83 1215.91 888.84 1217 888.85 1218.1 888.86 1219.19 888.86 1220.28 888.87 1221.38 888.87 1222.47 888.88 1223.56 888.88 1224.65 888.89 1225.75 888.89 1226.84 888.89"/>
<text class="t" x="1013.9" y="1006.1"><tspan font-size="23">Δ</tspan><tspan font-size="16" x="1029.5" dy="8.9">R</tspan><tspan x="1045.9" dy="-8.9">(GHz)</tspan></text>
<text class="t" transform="translate(708.8 858.8) rotate(-90)" textLength="238.75" lengthAdjust="spacing">Photon counts in 10 s</text>
<path class="ax" d="M1512.6 10.8H2042.2V399.1H1512.6Z"/>
<path class="tk" d="M1512.6 399.1v9M1645 399.1v9M1777.4 399.1v9M1909.8 399.1v9M2042.2 399.1v9M1578.8 399.1v5M1711.2 399.1v5M1843.6 399.1v5M1976 399.1v5M1512.6 379.5h-9M1512.6 300.88h-9M1512.6 222.25h-9M1512.6 143.62h-9M1512.6 65h-9M1512.6 340.19h-5M1512.6 261.56h-5M1512.6 182.94h-5M1512.6 104.31h-5M1512.6 25.69h-5"/>
<text class="t" x="1512.1" y="437.3" text-anchor="middle">−2</text>
<text class="t" x="1644.5" y="437.3" text-anchor="middle">−1</text>
<text class="t" x="1776.9" y="437.3" text-anchor="middle">0</text>
<text class="t" x="1909.3" y="437.3" text-anchor="middle">1</text>
<text class="t" x="2041.7" y="437.3" text-anchor="middle">2</text>
<text class="t" x="1492.2" y="388.3" text-anchor="end">0</text>
<text class="t" x="1492.2" y="309.68" text-anchor="end">1000</text>
<text class="t" x="1492.2" y="231.05" text-anchor="end">2000</text>
<text class="t" x="1492.2" y="152.43" text-anchor="end">3000</text>
<text class="t" x="1492.2" y="73.8" text-anchor="end">4000</text>
<text class="L" x="1390.8" y="23">e</text>
<path class="r" d="M1512.6 379.5 1513.66 379.5 1514.73 379.5 1515.79 379.5 1516.86 379.5 1517.92 379.5 1518.99 379.5 1520.05 379.5 1521.12 379.5 1522.18 379.5 1523.25 379.5 1524.31 379.5 1525.37 379.5 1526.44 379.5 1527.5 379.5 1528.57 379.5 1529.63 379.5 1530.7 379.5 1531.76 379.5 1532.83 379.5 1533.89 379.5 1534.95 379.5 1536.02 379.5 1537.08 379.5 1538.15 379.5 1539.21 379.5 1540.28 379.5 1541.34 379.5 1542.41 379.5 1543.47 379.5 1544.54 379.5 1545.6 379.5 1546.66 379.5 1547.73 379.5 1548.79 379.5 1549.86 379.5 1550.92 379.5 1551.99 379.5 1553.05 379.5 1554.12 379.5 1555.18 379.5 1556.24 379.5 1557.31 379.5 1558.37 379.5 1559.44 379.5 1560.5 379.5 1561.57 379.5 1562.63 379.5 1563.7 379.5 1564.76 379.5 1565.83 379.5 1566.89 379.5 1567.95 379.5 1569.02 379.5 1570.08 379.5 1571.15 379.5 1572.21 379.5 1573.28 379.5 1574.34 379.5 1575.41 379.5 1576.47 379.5 1577.53 379.5 1578.6 379.5 1579.66 379.5 1580.73 379.5 1581.79 379.51 1582.86 379.51 1583.92 379.51 1584.99 379.51 1586.05 379.51 1587.12 379.51 1588.18 379.51 1589.24 379.51 1590.31 379.51 1591.37 379.51 1592.44 379.51 1593.5 379.52 1594.57 379.52 1595.63 379.52 1596.7 379.52 1597.76 379.52 1598.83 379.53 1599.89 379.53 1600.95 379.53 1602.02 379.53 1603.08 379.54 1604.15 379.54 1605.21 379.54 1606.28 379.55 1607.34 379.55 1608.41 379.56 1609.47 379.56 1610.53 379.57 1611.6 379.57 1612.66 379.58 1613.73 379.59 1614.79 379.59 1615.86 379.6 1616.92 379.61 1617.99 379.62 1619.05 379.63 1620.12 379.64 1621.18 379.65 1622.24 379.66 1623.31 379.68 1624.37 379.69 1625.44 379.71 1626.5 379.72 1627.57 379.74 1628.63 379.76 1629.7 379.78 1630.76 379.8 1631.82 379.83 1632.89 379.85 1633.95 379.88 1635.02 379.91 1636.08 379.94 1637.15 379.97 1638.21 380 1639.28 380.04 1640.34 380.08 1641.41 380.12 1642.47 380.16 1643.53 380.21 1644.6 380.26 1645.66 380.31 1646.73 380.36 1647.79 380.42 1648.86 380.48 1649.92 380.54 1650.99 380.61 1652.05 380.68 1653.11 380.75 1654.18 380.83 1655.24 380.91 1656.31 380.99 1657.37 381.08 1658.44 381.16 1659.5 381.26 1660.57 381.35 1661.63 381.45 1662.7 381.55 1663.76 381.66 1664.82 381.76 1665.89 381.87 1666.95 381.98 1668.02 382.09 1669.08 382.21 1670.15 382.32 1671.21 382.43 1672.28 382.54 1673.34 382.65 1674.41 382.76 1675.47 382.86 1676.53 382.95 1677.6 383.05 1678.66 383.13 1679.73 383.2 1680.79 383.26 1681.86 383.31 1682.92 383.35 1683.99 383.36 1685.05 383.36 1686.11 383.34 1687.18 383.29 1688.24 383.21 1689.31 383.1 1690.37 382.95 1691.44 382.77 1692.5 382.55 1693.57 382.27 1694.63 381.95 1695.7 381.57 1696.76 381.13 1697.82 380.63 1698.89 380.06 1699.95 379.4 1701.02 378.67 1702.08 377.85 1703.15 376.93 1704.21 375.92 1705.28 374.79 1706.34 373.56 1707.4 372.2 1708.47 370.72 1709.53 369.1 1710.6 367.34 1711.66 365.44 1712.73 363.38 1713.79 361.16 1714.86 358.78 1715.92 356.22 1716.99 353.48 1718.05 350.55 1719.11 347.44 1720.18 344.13 1721.24 340.62 1722.31 336.91 1723.37 332.99 1724.44 328.85 1725.5 324.51 1726.57 319.95 1727.63 315.18 1728.69 310.19 1729.76 304.99 1730.82 299.58 1731.89 293.97 1732.95 288.14 1734.02 282.12 1735.08 275.91 1736.15 269.51 1737.21 262.94 1738.28 256.2 1739.34 249.3 1740.4 242.26 1741.47 235.08 1742.53 227.79 1743.6 220.4 1744.66 212.93 1745.73 205.38 1746.79 197.79 1747.86 190.17 1748.92 182.53 1749.98 174.91 1751.05 167.32 1752.11 159.78 1753.18 152.32 1754.24 144.96 1755.31 137.73 1756.37 130.64 1757.44 123.72 1758.5 116.99 1759.57 110.48 1760.63 104.2 1761.69 98.19 1762.76 92.46 1763.82 87.03 1764.89 81.93 1765.95 77.17 1767.02 72.77 1768.08 68.75 1769.15 65.12 1770.21 61.89 1771.28 59.09 1772.34 56.72 1773.4 54.78 1774.47 53.3 1775.53 52.26 1776.6 51.69 1777.66 51.57 1778.73 51.91 1779.79 52.71 1780.86 53.97 1781.92 55.68 1782.98 57.83 1784.05 60.42 1785.11 63.43 1786.18 66.86 1787.24 70.68 1788.31 74.89 1789.37 79.47 1790.44 84.4 1791.5 89.67 1792.57 95.25 1793.63 101.12 1794.69 107.26 1795.76 113.66 1796.82 120.28 1797.89 127.1 1798.95 134.11 1800.02 141.27 1801.08 148.58 1802.15 155.99 1803.21 163.49 1804.27 171.05 1805.34 178.66 1806.4 186.29 1807.47 193.92 1808.53 201.54 1809.6 209.11 1810.66 216.62 1811.73 224.06 1812.79 231.4 1813.86 238.63 1814.92 245.74 1815.98 252.71 1817.05 259.54 1818.11 266.2 1819.18 272.69 1820.24 278.99 1821.31 285.11 1822.37 291.04 1823.44 296.76 1824.5 302.28 1825.56 307.58 1826.63 312.68 1827.69 317.56 1828.76 322.22 1829.82 326.68 1830.89 330.91 1831.95 334.94 1833.02 338.76 1834.08 342.37 1835.15 345.78 1836.21 349 1837.27 352.02 1838.34 354.85 1839.4 357.5 1840.47 359.97 1841.53 362.28 1842.6 364.41 1843.66 366.4 1844.73 368.23 1845.79 369.91 1846.86 371.47 1847.92 372.89 1848.98 374.18 1850.05 375.36 1851.11 376.43 1852.18 377.4 1853.24 378.27 1854.31 379.04 1855.37 379.73 1856.44 380.35 1857.5 380.89 1858.56 381.36 1859.63 381.77 1860.69 382.12 1861.76 382.41 1862.82 382.66 1863.89 382.87 1864.95 383.03 1866.02 383.16 1867.08 383.25 1868.15 383.31 1869.21 383.35 1870.27 383.37 1871.34 383.36 1872.4 383.33 1873.47 383.29 1874.53 383.23 1875.6 383.17 1876.66 383.09 1877.73 383 1878.79 382.91 1879.85 382.81 1880.92 382.7 1881.98 382.6 1883.05 382.49 1884.11 382.37 1885.18 382.26 1886.24 382.15 1887.31 382.04 1888.37 381.93 1889.44 381.82 1890.5 381.71 1891.56 381.6 1892.63 381.5 1893.69 381.4 1894.76 381.3 1895.82 381.21 1896.89 381.12 1897.95 381.03 1899.02 380.95 1900.08 380.87 1901.14 380.79 1902.21 380.72 1903.27 380.64 1904.34 380.58 1905.4 380.51 1906.47 380.45 1907.53 380.39 1908.6 380.34 1909.66 380.28 1910.73 380.23 1911.79 380.19 1912.85 380.14 1913.92 380.1 1914.98 380.06 1916.05 380.02 1917.11 379.99 1918.18 379.95 1919.24 379.92 1920.31 379.89 1921.37 379.87 1922.44 379.84 1923.5 379.82 1924.56 379.79 1925.63 379.77 1926.69 379.75 1927.76 379.73 1928.82 379.72 1929.89 379.7 1930.95 379.69 1932.02 379.67 1933.08 379.66 1934.14 379.65 1935.21 379.63 1936.27 379.62 1937.34 379.61 1938.4 379.61 1939.47 379.6 1940.53 379.59 1941.6 379.58 1942.66 379.58 1943.73 379.57 1944.79 379.56 1945.85 379.56 1946.92 379.55 1947.98 379.55 1949.05 379.55 1950.11 379.54 1951.18 379.54 1952.24 379.53 1953.31 379.53 1954.37 379.53 1955.43 379.53 1956.5 379.52 1957.56 379.52 1958.63 379.52 1959.69 379.52 1960.76 379.52 1961.82 379.52 1962.89 379.51 1963.95 379.51 1965.02 379.51 1966.08 379.51 1967.14 379.51 1968.21 379.51 1969.27 379.51 1970.34 379.51 1971.4 379.51 1972.47 379.51 1973.53 379.51 1974.6 379.5 1975.66 379.5 1976.72 379.5 1977.79 379.5 1978.85 379.5 1979.92 379.5 1980.98 379.5 1982.05 379.5 1983.11 379.5 1984.18 379.5 1985.24 379.5 1986.31 379.5 1987.37 379.5 1988.43 379.5 1989.5 379.5 1990.56 379.5 1991.63 379.5 1992.69 379.5 1993.76 379.5 1994.82 379.5 1995.89 379.5 1996.95 379.5 1998.02 379.5 1999.08 379.5 2000.14 379.5 2001.21 379.5 2002.27 379.5 2003.34 379.5 2004.4 379.5 2005.47 379.5 2006.53 379.5 2007.6 379.5 2008.66 379.5 2009.72 379.5 2010.79 379.5 2011.85 379.5 2012.92 379.5 2013.98 379.5 2015.05 379.5 2016.11 379.5 2017.18 379.5 2018.24 379.5 2019.31 379.5 2020.37 379.5 2021.43 379.5 2022.5 379.5 2023.56 379.5 2024.63 379.5 2025.69 379.5 2026.76 379.5 2027.82 379.5 2028.89 379.5 2029.95 379.5 2031.01 379.5 2032.08 379.5 2033.14 379.5 2034.21 379.5 2035.27 379.5 2036.34 379.5 2037.4 379.5 2038.47 379.5 2039.53 379.5 2040.6 379.5 2041.66 379.5 2042.72 379.5 2043.79 379.5"/>
<circle class="d" cx="1744.3" cy="215.25" r="4.4"/>
<circle class="d" cx="1810.5" cy="215.25" r="4.4"/>
<path class="ar" d="M1862.1 214.2L1829.8 214.6"/>
<path class="ah" d="M1820.8 214.6L1839.8 208.2L1832.3 214.6L1839.8 221Z"/>
<text class="s" x="1869.5" y="220.2" textLength="155.3" lengthAdjust="spacing">FWHM = 504 MHz</text>
<text class="t" x="1677.7" y="473.3">Frequency (GHz)</text>
<text class="t" transform="translate(1411.4 351.8) rotate(-90)" textLength="286.9" lengthAdjust="spacing">Spectra of stokes photons</text>
<path class="ax" d="M1512.6 543.2H2042.2V931.6H1512.6Z"/>
<path class="tk" d="M1512.6 931.6v9M1645 931.6v9M1777.4 931.6v9M1909.8 931.6v9M2042.2 931.6v9M1578.8 931.6v5M1711.2 931.6v5M1843.6 931.6v5M1976 931.6v5M1512.6 915.3h-9M1512.6 853.28h-9M1512.6 791.27h-9M1512.6 729.25h-9M1512.6 667.23h-9M1512.6 605.22h-9M1512.6 543.2h-9M1512.6 884.29h-5M1512.6 822.27h-5M1512.6 760.26h-5M1512.6 698.24h-5M1512.6 636.23h-5M1512.6 574.21h-5"/>
<text class="t" x="1512.1" y="970.3" text-anchor="middle">−2</text>
<text class="t" x="1644.5" y="970.3" text-anchor="middle">−1</text>
<text class="t" x="1776.9" y="970.3" text-anchor="middle">0</text>
<text class="t" x="1909.3" y="970.3" text-anchor="middle">1</text>
<text class="t" x="2041.7" y="970.3" text-anchor="middle">2</text>
<text class="t" x="1492.2" y="923.4" text-anchor="end">0</text>
<text class="t" x="1492.2" y="861.38" text-anchor="end">300</text>
<text class="t" x="1492.2" y="799.37" text-anchor="end">600</text>
<text class="t" x="1492.2" y="737.35" text-anchor="end">900</text>
<text class="t" x="1492.2" y="675.33" text-anchor="end">1200</text>
<text class="t" x="1492.2" y="613.32" text-anchor="end">1500</text>
<text class="t" x="1492.2" y="551.3" text-anchor="end">1800</text>
<text class="L" x="1395.5" y="546.4">f</text>
<path class="r" d="M1512.6 915.3 1513.66 915.3 1514.73 915.3 1515.79 915.3 1516.86 915.3 1517.92 915.3 1518.99 915.3 1520.05 915.3 1521.12 915.3 1522.18 915.3 1523.25 915.3 1524.31 915.3 1525.37 915.3 1526.44 915.3 1527.5 915.3 1528.57 915.3 1529.63 915.3 1530.7 915.3 1531.76 915.3 1532.83 915.3 1533.89 915.3 1534.95 915.3 1536.02 915.3 1537.08 915.3 1538.15 915.3 1539.21 915.3 1540.28 915.3 1541.34 915.3 1542.41 915.3 1543.47 915.3 1544.54 915.3 1545.6 915.3 1546.66 915.3 1547.73 915.3 1548.79 915.3 1549.86 915.3 1550.92 915.3 1551.99 915.3 1553.05 915.3 1554.12 915.3 1555.18 915.3 1556.24 915.3 1557.31 915.3 1558.37 915.3 1559.44 915.3 1560.5 915.3 1561.57 915.3 1562.63 915.3 1563.7 915.3 1564.76 915.3 1565.83 915.3 1566.89 915.3 1567.95 915.3 1569.02 915.31 1570.08 915.31 1571.15 915.31 1572.21 915.31 1573.28 915.31 1574.34 915.31 1575.41 915.31 1576.47 915.31 1577.53 915.31 1578.6 915.31 1579.66 915.31 1580.73 915.31 1581.79 915.32 1582.86 915.32 1583.92 915.32 1584.99 915.32 1586.05 915.32 1587.12 915.32 1588.18 915.33 1589.24 915.33 1590.31 915.33 1591.37 915.33 1592.44 915.34 1593.5 915.34 1594.57 915.34 1595.63 915.35 1596.7 915.35 1597.76 915.35 1598.83 915.36 1599.89 915.36 1600.95 915.37 1602.02 915.37 1603.08 915.38 1604.15 915.39 1605.21 915.39 1606.28 915.4 1607.34 915.41 1608.41 915.42 1609.47 915.43 1610.53 915.44 1611.6 915.45 1612.66 915.46 1613.73 915.47 1614.79 915.48 1615.86 915.5 1616.92 915.51 1617.99 915.53 1619.05 915.54 1620.12 915.56 1621.18 915.58 1622.24 915.6 1623.31 915.62 1624.37 915.64 1625.44 915.67 1626.5 915.69 1627.57 915.72 1628.63 915.75 1629.7 915.78 1630.76 915.81 1631.82 915.84 1632.89 915.87 1633.95 915.91 1635.02 915.95 1636.08 915.99 1637.15 916.03 1638.21 916.08 1639.28 916.12 1640.34 916.17 1641.41 916.22 1642.47 916.28 1643.53 916.33 1644.6 916.39 1645.66 916.45 1646.73 916.52 1647.79 916.58 1648.86 916.65 1649.92 916.72 1650.99 916.79 1652.05 916.87 1653.11 916.94 1654.18 917.02 1655.24 917.1 1656.31 917.18 1657.37 917.26 1658.44 917.34 1659.5 917.43 1660.57 917.51 1661.63 917.6 1662.7 917.68 1663.76 917.76 1664.82 917.84 1665.89 917.92 1666.95 917.99 1668.02 918.06 1669.08 918.13 1670.15 918.19 1671.21 918.24 1672.28 918.28 1673.34 918.32 1674.41 918.34 1675.47 918.35 1676.53 918.34 1677.6 918.32 1678.66 918.29 1679.73 918.23 1680.79 918.15 1681.86 918.04 1682.92 917.91 1683.99 917.75 1685.05 917.55 1686.11 917.32 1687.18 917.05 1688.24 916.74 1689.31 916.38 1690.37 915.97 1691.44 915.5 1692.5 914.98 1693.57 914.4 1694.63 913.75 1695.7 913.03 1696.76 912.24 1697.82 911.36 1698.89 910.4 1699.95 909.35 1701.02 908.21 1702.08 906.96 1703.15 905.61 1704.21 904.15 1705.28 902.57 1706.34 900.87 1707.4 899.04 1708.47 897.08 1709.53 894.99 1710.6 892.75 1711.66 890.36 1712.73 887.82 1713.79 885.13 1714.86 882.28 1715.92 879.26 1716.99 876.07 1718.05 872.72 1719.11 869.19 1720.18 865.48 1721.24 861.6 1722.31 857.53 1723.37 853.29 1724.44 848.87 1725.5 844.27 1726.57 839.48 1727.63 834.53 1728.69 829.4 1729.76 824.09 1730.82 818.62 1731.89 812.99 1732.95 807.21 1734.02 801.27 1735.08 795.19 1736.15 788.98 1737.21 782.64 1738.28 776.19 1739.34 769.64 1740.4 762.99 1741.47 756.26 1742.53 749.47 1743.6 742.62 1744.66 735.73 1745.73 728.82 1746.79 721.9 1747.86 715 1748.92 708.11 1749.98 701.27 1751.05 694.49 1752.11 687.79 1753.18 681.18 1754.24 674.69 1755.31 668.33 1756.37 662.13 1757.44 656.09 1758.5 650.24 1759.57 644.6 1760.63 639.18 1761.69 634 1762.76 629.07 1763.82 624.42 1764.89 620.06 1765.95 615.99 1767.02 612.24 1768.08 608.82 1769.15 605.74 1770.21 603.01 1771.28 600.63 1772.34 598.62 1773.4 596.99 1774.47 595.73 1775.53 594.86 1776.6 594.37 1777.66 594.27 1778.73 594.56 1779.79 595.24 1780.86 596.3 1781.92 597.75 1782.98 599.57 1784.05 601.76 1785.11 604.31 1786.18 607.22 1787.24 610.47 1788.31 614.05 1789.37 617.96 1790.44 622.17 1791.5 626.68 1792.57 631.47 1793.63 636.52 1794.69 641.82 1795.76 647.35 1796.82 653.1 1797.89 659.04 1798.95 665.16 1800.02 671.45 1801.08 677.87 1802.15 684.42 1803.21 691.08 1804.27 697.82 1805.34 704.63 1806.4 711.5 1807.47 718.4 1808.53 725.31 1809.6 732.23 1810.66 739.13 1811.73 746 1812.79 752.82 1813.86 759.59 1814.92 766.28 1815.98 772.88 1817.05 779.38 1818.11 785.78 1819.18 792.06 1820.24 798.2 1821.31 804.21 1822.37 810.08 1823.44 815.79 1824.5 821.34 1825.56 826.73 1826.63 831.94 1827.69 836.99 1828.76 841.86 1829.82 846.55 1830.89 851.07 1831.95 855.4 1833.02 859.56 1834.08 863.53 1835.15 867.33 1836.21 870.95 1837.27 874.39 1838.34 877.66 1839.4 880.77 1840.47 883.7 1841.53 886.48 1842.6 889.09 1843.66 891.56 1844.73 893.87 1845.79 896.04 1846.86 898.06 1847.92 899.96 1848.98 901.72 1850.05 903.36 1851.11 904.88 1852.18 906.29 1853.24 907.59 1854.31 908.79 1855.37 909.88 1856.44 910.89 1857.5 911.81 1858.56 912.64 1859.63 913.4 1860.69 914.08 1861.76 914.7 1862.82 915.25 1863.89 915.74 1864.95 916.17 1866.02 916.56 1867.08 916.89 1868.15 917.19 1869.21 917.44 1870.27 917.65 1871.34 917.83 1872.4 917.98 1873.47 918.1 1874.53 918.19 1875.6 918.26 1876.66 918.31 1877.73 918.34 1878.79 918.35 1879.85 918.35 1880.92 918.33 1881.98 918.3 1883.05 918.26 1884.11 918.21 1885.18 918.16 1886.24 918.1 1887.31 918.03 1888.37 917.96 1889.44 917.88 1890.5 917.8 1891.56 917.72 1892.63 917.64 1893.69 917.55 1894.76 917.47 1895.82 917.39 1896.89 917.3 1897.95 917.22 1899.02 917.14 1900.08 917.06 1901.14 916.98 1902.21 916.9 1903.27 916.83 1904.34 916.76 1905.4 916.68 1906.47 916.62 1907.53 916.55 1908.6 916.49 1909.66 916.42 1910.73 916.36 1911.79 916.31 1912.85 916.25 1913.92 916.2 1914.98 916.15 1916.05 916.1 1917.11 916.06 1918.18 916.01 1919.24 915.97 1920.31 915.93 1921.37 915.89 1922.44 915.86 1923.5 915.82 1924.56 915.79 1925.63 915.76 1926.69 915.73 1927.76 915.7 1928.82 915.68 1929.89 915.65 1930.95 915.63 1932.02 915.61 1933.08 915.59 1934.14 915.57 1935.21 915.55 1936.27 915.54 1937.34 915.52 1938.4 915.5 1939.47 915.49 1940.53 915.48 1941.6 915.46 1942.66 915.45 1943.73 915.44 1944.79 915.43 1945.85 915.42 1946.92 915.41 1947.98 915.41 1949.05 915.4 1950.11 915.39 1951.18 915.38 1952.24 915.38 1953.31 915.37 1954.37 915.37 1955.43 915.36 1956.5 915.36 1957.56 915.35 1958.63 915.35 1959.69 915.34 1960.76 915.34 1961.82 915.34 1962.89 915.34 1963.95 915.33 1965.02 915.33 1966.08 915.33 1967.14 915.33 1968.21 915.32 1969.27 915.32 1970.34 915.32 1971.4 915.32 1972.47 915.32 1973.53 915.32 1974.6 915.31 1975.66 915.31 1976.72 915.31 1977.79 915.31 1978.85 915.31 1979.92 915.31 1980.98 915.31 1982.05 915.31 1983.11 915.31 1984.18 915.31 1985.24 915.31 1986.31 915.31 1987.37 915.3 1988.43 915.3 1989.5 915.3 1990.56 915.3 1991.63 915.3 1992.69 915.3 1993.76 915.3 1994.82 915.3 1995.89 915.3 1996.95 915.3 1998.02 915.3 1999.08 915.3 2000.14 915.3 2001.21 915.3 2002.27 915.3 2003.34 915.3 2004.4 915.3 2005.47 915.3 2006.53 915.3 2007.6 915.3 2008.66 915.3 2009.72 915.3 2010.79 915.3 2011.85 915.3 2012.92 915.3 2013.98 915.3 2015.05 915.3 2016.11 915.3 2017.18 915.3 2018.24 915.3 2019.31 915.3 2020.37 915.3 2021.43 915.3 2022.5 915.3 2023.56 915.3 2024.63 915.3 2025.69 915.3 2026.76 915.3 2027.82 915.3 2028.89 915.3 2029.95 915.3 2031.01 915.3 2032.08 915.3 2033.14 915.3 2034.21 915.3 2035.27 915.3 2036.34 915.3 2037.4 915.3 2038.47 915.3 2039.53 915.3 2040.6 915.3 2041.66 915.3 2042.72 915.3 2043.79 915.3"/>
<circle class="d" cx="1741.72" cy="754.68" r="4.4"/>
<circle class="d" cx="1813.08" cy="754.68" r="4.4"/>
<path class="ar" d="M1864.68 754.5L1832.38 754.9"/>
<path class="ah" d="M1823.38 754.9L1842.38 748.5L1834.88 754.9L1842.38 761.3Z"/>
<text class="s" x="1871.2" y="760.5" textLength="155.3" lengthAdjust="spacing">FWHM = 537 MHz</text>
<text class="t" x="1677.7" y="1006.1">Frequency (GHz)</text>
<text class="t" transform="translate(1411.3 909.1) rotate(-90)" textLength="336.3" lengthAdjust="spacing">Spectra of anti-stokes photons</text>
</svg>
</body></html>
